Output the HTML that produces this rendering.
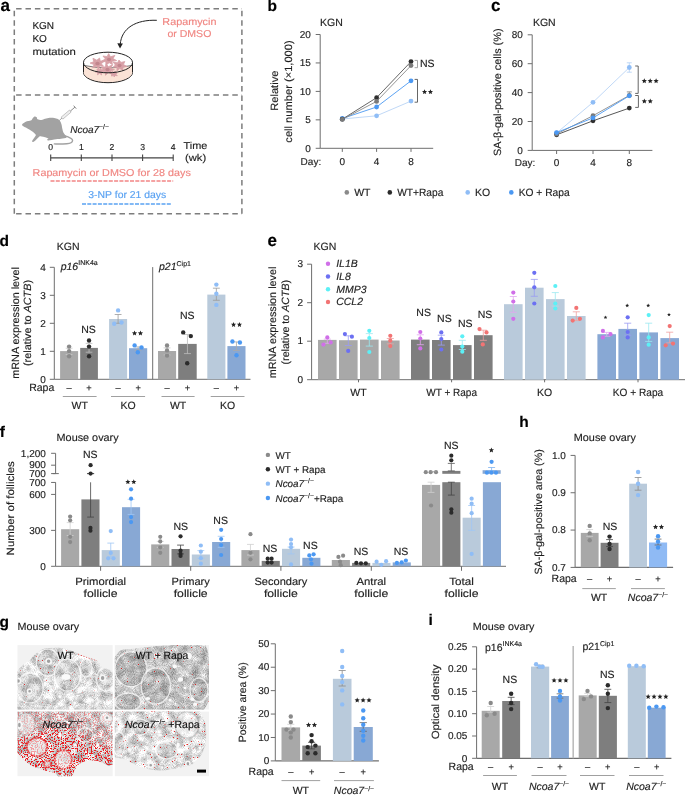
<!DOCTYPE html>
<html><head><meta charset="utf-8"><title>Figure</title>
<style>
html,body{margin:0;padding:0;background:#fff;}
body{width:685px;height:795px;overflow:hidden;}
svg{display:block;font-family:"Liberation Sans",sans-serif;will-change:transform;text-rendering:geometricPrecision;}
</style></head><body>
<svg width="685" height="795" viewBox="0 0 685 795">
<rect width="685" height="795" fill="#fff"/>
<text x="0.4" y="11.4" font-size="17" fill="#000" font-weight="bold"  stroke="#000" stroke-width="0.15">a</text>
<line x1="16.1" y1="8.8" x2="242" y2="8.8" stroke="#7d7d7d" stroke-width="1.5" stroke-dasharray="5.5 3.9"/>
<line x1="16.1" y1="95" x2="242" y2="95" stroke="#7d7d7d" stroke-width="1.5" stroke-dasharray="5.5 3.9"/>
<line x1="16.1" y1="213.8" x2="242" y2="213.8" stroke="#7d7d7d" stroke-width="1.5" stroke-dasharray="5.5 3.9"/>
<line x1="14.3" y1="10.8" x2="14.3" y2="214" stroke="#7d7d7d" stroke-width="1.5" stroke-dasharray="5.5 3.9"/>
<line x1="241.9" y1="10.8" x2="241.9" y2="214" stroke="#7d7d7d" stroke-width="1.5" stroke-dasharray="5.5 3.9"/>
<text x="32.4" y="29.3" font-size="10" fill="#1e1e1e"   stroke="#1e1e1e" stroke-width="0.15">KGN</text>
<text x="32.4" y="42" font-size="10" fill="#1e1e1e"   stroke="#1e1e1e" stroke-width="0.15">KO</text>
<text x="32.4" y="54.7" font-size="10" fill="#1e1e1e" textLength="43.5" lengthAdjust="spacingAndGlyphs"  stroke="#1e1e1e" stroke-width="0.15">mutation</text>
<ellipse cx="108" cy="72.4" rx="24.5" ry="10.3" fill="#fbe3d6" stroke="#222" stroke-width="1"/>
<rect x="83.5" y="62.5" width="49" height="9.9" fill="#fbe3d6"/>
<ellipse cx="108" cy="62.5" rx="24.5" ry="10.3" fill="#fff"/>
<path d="M83.6,65.4 Q108,70.5 132.4,65.4 L132.4,72.4 A24.5,10.3 0 0 1 83.6,72.4 Z" fill="#fbe3d6"/>
<path d="M83.8,65.4 Q108,70.5 132.2,65.4" fill="none" stroke="#444" stroke-width="0.7"/>
<polygon points="98.58,69.02 96.36,66.52 92.72,67.66 94.1,64.58 90.1,63.09 93.68,61.76 92.97,58.23 96.84,60.13 99.58,58.02 100.25,61.11 104.22,61.36 101.24,63.71 103.57,66.27 99.65,65.99" fill="#d8a1a7" stroke="#d8a1a7" stroke-width="0.8" stroke-linejoin="round"/>
<polygon points="114.88,55.39 113.03,58.61 116.65,60.61 111.96,61.22 112.36,64.49 109.18,62.72 105.99,65.15 105.82,61.72 101.4,61.18 105.48,58.99 102.93,55.98 107.07,56.64 108.67,53.62 110.43,56.82" fill="#d8a1a7" stroke="#d8a1a7" stroke-width="0.8" stroke-linejoin="round"/>
<polygon points="113.21,67.06 115.38,65.01 113.19,62.06 117.57,62.84 118.98,60.02 121.01,62.41 124.8,61.56 123.44,64.53 127.03,66.4 122.65,67.22 123.02,70.36 119.79,68.6 116.93,70.75 116.91,67.42" fill="#d8a1a7" stroke="#d8a1a7" stroke-width="0.8" stroke-linejoin="round"/>
<polygon points="105.56,75.35 105.26,71.59 101.53,71.6 103.59,69.39 101.45,66.95 105.22,67.03 106.17,63.92 108.45,66.66 112.59,64.75 110.76,68.36 114.52,69.7 110.66,70.83 111.86,74.21 108.18,72.35" fill="#d8a1a7" stroke="#d8a1a7" stroke-width="0.8" stroke-linejoin="round"/>
<polygon points="97.35,74.84 97.94,72.53 95.25,71.92 97.42,70.77 96.92,69.02 99.25,69.77 100.52,67.94 101.42,69.7 104.1,69.46 102.36,71.29 104.31,72.72 101.65,72.83 101.53,75.04 99.74,73.31" fill="#d8a1a7" stroke="#d8a1a7" stroke-width="0.8" stroke-linejoin="round"/>
<polygon points="112.01,71.27 113.83,72.28 115.38,71.14 115.57,72.82 117.18,73.2 115.85,74.22 117.32,75.79 115.05,75.43 114.29,76.88 113.23,75.6 111.26,76.06 112,74.5 110.51,73.59 112.48,73.18" fill="#d8a1a7" stroke="#d8a1a7" stroke-width="0.8" stroke-linejoin="round"/>
<ellipse cx="97.5" cy="63.5" rx="2.16" ry="1.87" fill="#c2868e"/>
<ellipse cx="109" cy="59.5" rx="2.1" ry="1.82" fill="#c2868e"/>
<ellipse cx="119.5" cy="65.5" rx="2.04" ry="1.77" fill="#c2868e"/>
<ellipse cx="107.5" cy="69.5" rx="2.04" ry="1.77" fill="#c2868e"/>
<ellipse cx="108" cy="62.5" rx="24.5" ry="10.3" fill="none" stroke="#222" stroke-width="1"/>
<line x1="83.5" y1="62.5" x2="83.5" y2="72.4" stroke="#222" stroke-width="1" />
<line x1="132.5" y1="62.5" x2="132.5" y2="72.4" stroke="#222" stroke-width="1" />
<path d="M156.8,20.3 C136,19.5 121.5,28 120.2,44.5" fill="none" stroke="#222" stroke-width="1"/>
<path d="M117.3,43.2 L120,48.6 L122.9,43.5 Z" fill="#222"/>
<text x="189.4" y="24.8" font-size="10" fill="#f08682" text-anchor="middle" textLength="54.1" lengthAdjust="spacingAndGlyphs"  stroke="#f08682" stroke-width="0.15">Rapamycin</text>
<text x="189.4" y="37.2" font-size="10" fill="#f08682" text-anchor="middle" textLength="43.9" lengthAdjust="spacingAndGlyphs"  stroke="#f08682" stroke-width="0.15">or DMSO</text>
<path d="M22.1,124.4 C22.28,123.75 23.52,122.95 24.5,122.4 C25.48,121.85 26.85,121.47 28,121.1 C29.15,120.73 30.62,120.68 31.4,120.2 C32.18,119.72 32.17,118.82 32.7,118.2 C33.23,117.58 33.93,116.67 34.6,116.5 C35.27,116.33 36.2,116.73 36.7,117.2 C37.2,117.67 36.8,118.82 37.6,119.3 C38.4,119.78 40.25,120.18 41.5,120.1 C42.75,120.02 43.73,119.18 45.1,118.8 C46.47,118.42 48.18,117.95 49.7,117.8 C51.22,117.65 52.83,117.7 54.2,117.9 C55.57,118.1 56.9,118.43 57.9,119 C58.9,119.57 59.6,120.4 60.2,121.3 C60.8,122.2 61.13,123.12 61.5,124.4 C61.87,125.68 62.08,127.63 62.4,129 C62.72,130.37 62.9,131.55 63.4,132.6 C63.9,133.65 64.87,134.48 65.4,135.3 C65.93,136.12 67.33,136.93 66.6,137.5 C65.87,138.07 62.77,138.42 61,138.7 C59.23,138.98 58.12,138.92 56,139.2 C53.88,139.48 49.77,140.35 48.3,140.4 C46.83,140.45 47.18,139.82 47.2,139.5 C47.22,139.18 48.75,138.88 48.4,138.5 C48.05,138.12 46.25,137.55 45.1,137.2 C43.95,136.85 42.53,136.45 41.5,136.4 C40.47,136.35 40.08,136.08 38.9,136.9 C37.72,137.72 35.45,140.48 34.4,141.3 C33.35,142.12 32.98,141.87 32.6,141.8 C32.22,141.73 31.68,141.77 32.1,140.9 C32.52,140.03 34.52,137.68 35.1,136.6 C35.68,135.52 36.18,135.35 35.6,134.4 C35.02,133.45 33.03,131.93 31.6,130.9 C30.17,129.87 28.37,128.97 27,128.2 C25.63,127.43 24.22,126.93 23.4,126.3 C22.58,125.67 21.92,125.05 22.1,124.4 Z" fill="#a2a2a2"/>
<path d="M64,135.6 C64.83,135.9 67.63,136.77 69,137.4 C70.37,138.03 71.68,138.65 72.2,139.4 C72.72,140.15 72.58,141.23 72.1,141.9 C71.62,142.57 70.82,143.05 69.3,143.4 C67.78,143.75 65.5,143.92 63,144 C60.5,144.08 55.75,143.92 54.3,143.9" fill="none" stroke="#a2a2a2" stroke-width="1.4" stroke-linecap="round"/>
<g transform="translate(59.3 120.4) rotate(-40.2)"><line x1="0" y1="0" x2="3.5" y2="0" stroke="#888" stroke-width="0.7"/><rect x="3.5" y="-1.3" width="11" height="2.6" fill="#eee" stroke="#999" stroke-width="0.5"/><line x1="14.5" y1="0" x2="20.5" y2="0" stroke="#888" stroke-width="0.9"/><line x1="20.5" y1="-2" x2="20.5" y2="2" stroke="#888" stroke-width="0.9"/></g>
<text x="70.2" y="132.7" font-size="10" fill="#1e1e1e" font-style="italic" stroke="#1e1e1e" stroke-width="0.15">Ncoa7<tspan font-size="6.8" dy="-3.8" font-style="normal">&#8722;/&#8722;</tspan></text>
<line x1="50.7" y1="157.9" x2="173.2" y2="157.9" stroke="#444" stroke-width="1.1" />
<line x1="50.7" y1="154.6" x2="50.7" y2="161.1" stroke="#444" stroke-width="1.1" />
<text x="50.7" y="150.4" font-size="8.6" fill="#1e1e1e" text-anchor="middle"  stroke="#1e1e1e" stroke-width="0.15">0</text>
<line x1="81.3" y1="154.6" x2="81.3" y2="161.1" stroke="#444" stroke-width="1.1" />
<text x="81.3" y="150.4" font-size="8.6" fill="#1e1e1e" text-anchor="middle"  stroke="#1e1e1e" stroke-width="0.15">1</text>
<line x1="112" y1="154.6" x2="112" y2="161.1" stroke="#444" stroke-width="1.1" />
<text x="112" y="150.4" font-size="8.6" fill="#1e1e1e" text-anchor="middle"  stroke="#1e1e1e" stroke-width="0.15">2</text>
<line x1="142.6" y1="154.6" x2="142.6" y2="161.1" stroke="#444" stroke-width="1.1" />
<text x="142.6" y="150.4" font-size="8.6" fill="#1e1e1e" text-anchor="middle"  stroke="#1e1e1e" stroke-width="0.15">3</text>
<line x1="173.2" y1="154.6" x2="173.2" y2="161.1" stroke="#444" stroke-width="1.1" />
<text x="173.2" y="150.4" font-size="8.6" fill="#1e1e1e" text-anchor="middle"  stroke="#1e1e1e" stroke-width="0.15">4</text>
<text x="183.6" y="148.6" font-size="10" fill="#1e1e1e" textLength="23.8" lengthAdjust="spacingAndGlyphs"  stroke="#1e1e1e" stroke-width="0.15">Time</text>
<text x="185" y="161.3" font-size="10" fill="#1e1e1e" textLength="21.2" lengthAdjust="spacingAndGlyphs"  stroke="#1e1e1e" stroke-width="0.15">(wk)</text>
<text x="32.6" y="176.3" font-size="10" fill="#f08682" textLength="158.2" lengthAdjust="spacingAndGlyphs"  stroke="#f08682" stroke-width="0.15">Rapamycin or DMSO for 28 days</text>
<line x1="50.5" y1="181" x2="173.2" y2="181" stroke="#f28585" stroke-width="1.4" stroke-dasharray="4 1.3"/>
<text x="88.3" y="198.3" font-size="10" fill="#5aa2f2" textLength="78" lengthAdjust="spacingAndGlyphs"  stroke="#5aa2f2" stroke-width="0.15">3-NP for 21 days</text>
<line x1="82" y1="204" x2="171.9" y2="204" stroke="#5aa2f2" stroke-width="1.4" stroke-dasharray="4 1.3"/>
<text x="267.6" y="11.4" font-size="15.5" fill="#000" font-weight="bold"  stroke="#000" stroke-width="0.15">b</text>
<text x="320.1" y="25.9" font-size="10.5" fill="#1e1e1e"   stroke="#1e1e1e" stroke-width="0.15">KGN</text>
<line x1="320.2" y1="34.5" x2="320.2" y2="148.3" stroke="#6e6e6e" stroke-width="1" />
<line x1="315.7" y1="34.5" x2="320.2" y2="34.5" stroke="#6e6e6e" stroke-width="1" />
<text x="310.8" y="37.7" font-size="10" fill="#1e1e1e" text-anchor="end"  stroke="#1e1e1e" stroke-width="0.15">20</text>
<line x1="315.7" y1="62.95" x2="320.2" y2="62.95" stroke="#6e6e6e" stroke-width="1" />
<text x="310.8" y="66.15" font-size="10" fill="#1e1e1e" text-anchor="end"  stroke="#1e1e1e" stroke-width="0.15">15</text>
<line x1="315.7" y1="91.4" x2="320.2" y2="91.4" stroke="#6e6e6e" stroke-width="1" />
<text x="310.8" y="94.6" font-size="10" fill="#1e1e1e" text-anchor="end"  stroke="#1e1e1e" stroke-width="0.15">10</text>
<line x1="315.7" y1="119.85" x2="320.2" y2="119.85" stroke="#6e6e6e" stroke-width="1" />
<text x="310.8" y="123.05" font-size="10" fill="#1e1e1e" text-anchor="end"  stroke="#1e1e1e" stroke-width="0.15">5</text>
<line x1="315.7" y1="148.3" x2="320.2" y2="148.3" stroke="#6e6e6e" stroke-width="1" />
<text x="310.8" y="151.5" font-size="10" fill="#1e1e1e" text-anchor="end"  stroke="#1e1e1e" stroke-width="0.15">0</text>
<line x1="320.2" y1="148.3" x2="433.2" y2="148.3" stroke="#6e6e6e" stroke-width="1" />
<line x1="342.3" y1="148.3" x2="342.3" y2="151.9" stroke="#6e6e6e" stroke-width="1" />
<text x="342.3" y="164.6" font-size="10" fill="#1e1e1e" text-anchor="middle"  stroke="#1e1e1e" stroke-width="0.15">0</text>
<line x1="376.6" y1="148.3" x2="376.6" y2="151.9" stroke="#6e6e6e" stroke-width="1" />
<text x="376.6" y="164.6" font-size="10" fill="#1e1e1e" text-anchor="middle"  stroke="#1e1e1e" stroke-width="0.15">4</text>
<line x1="411" y1="148.3" x2="411" y2="151.9" stroke="#6e6e6e" stroke-width="1" />
<text x="411" y="164.6" font-size="10" fill="#1e1e1e" text-anchor="middle"  stroke="#1e1e1e" stroke-width="0.15">8</text>
<text x="300.6" y="164.6" font-size="10" fill="#1e1e1e"   stroke="#1e1e1e" stroke-width="0.15">Day:</text>
<text transform="translate(278.4 90.7) rotate(-90)" font-size="10.5" fill="#1e1e1e" text-anchor="middle" textLength="40.3" lengthAdjust="spacingAndGlyphs"  stroke="#1e1e1e" stroke-width="0.15">Relative</text>
<text transform="translate(292 91.5) rotate(-90)" font-size="10.5" fill="#1e1e1e" text-anchor="middle" textLength="102.4" lengthAdjust="spacingAndGlyphs"  stroke="#1e1e1e" stroke-width="0.15">cell number (&#215;1,000)</text>
<polyline points="342.3,119 376.6,115.8 411,101.1" fill="none" stroke="#b9d4f5" stroke-width="0.9"/>
<polyline points="342.3,118.5 376.6,107 411,80.8" fill="none" stroke="#4b98f2" stroke-width="0.9"/>
<polyline points="342.3,119.2 376.6,97.7 411,61.6" fill="none" stroke="#555" stroke-width="0.9"/>
<polyline points="342.3,119.4 376.6,101.4 411,65.6" fill="none" stroke="#8a8a8a" stroke-width="0.9"/>
<circle cx="342.3" cy="119" r="2.4" fill="#8fbdf6"/>
<circle cx="376.6" cy="115.8" r="2.4" fill="#8fbdf6"/>
<circle cx="411" cy="101.1" r="2.4" fill="#8fbdf6"/>
<circle cx="342.3" cy="118.5" r="2.4" fill="#4b98f2"/>
<circle cx="376.6" cy="107" r="2.4" fill="#4b98f2"/>
<circle cx="411" cy="80.8" r="2.4" fill="#4b98f2"/>
<circle cx="342.3" cy="119.2" r="2.4" fill="#2e2e2e"/>
<circle cx="376.6" cy="97.7" r="2.4" fill="#2e2e2e"/>
<circle cx="411" cy="61.6" r="2.4" fill="#2e2e2e"/>
<circle cx="342.3" cy="119.4" r="2.4" fill="#7a7a7a"/>
<circle cx="376.6" cy="101.4" r="2.4" fill="#7a7a7a"/>
<circle cx="411" cy="65.6" r="2.4" fill="#7a7a7a"/>
<path d="M414.6,60.4 H417.5 V67.7 H414.6" fill="none" stroke="#9a9a9a" stroke-width="0.9"/>
<text x="420" y="66.5" font-size="10.5" fill="#1e1e1e"   stroke="#1e1e1e" stroke-width="0.15">NS</text>
<path d="M414.6,79.4 H417.5 V102.2 H414.6" fill="none" stroke="#555" stroke-width="0.9"/>
<polygon points="424.55,89.15 425.28,90.9 427.17,91.05 425.73,92.28 426.17,94.12 424.55,93.14 422.93,94.12 423.37,92.28 421.93,91.05 423.82,90.9" fill="#222"/>
<polygon points="430.45,89.15 431.18,90.9 433.07,91.05 431.63,92.28 432.07,94.12 430.45,93.14 428.83,94.12 429.27,92.28 427.83,91.05 429.72,90.9" fill="#222"/>
<text x="491" y="11.4" font-size="17" fill="#000" font-weight="bold"  stroke="#000" stroke-width="0.15">c</text>
<text x="532.9" y="25.9" font-size="10.5" fill="#1e1e1e"   stroke="#1e1e1e" stroke-width="0.15">KGN</text>
<line x1="532.2" y1="34.8" x2="532.2" y2="150.4" stroke="#6e6e6e" stroke-width="1" />
<line x1="527.7" y1="34.8" x2="532.2" y2="34.8" stroke="#6e6e6e" stroke-width="1" />
<text x="522.9" y="38" font-size="10" fill="#1e1e1e" text-anchor="end"  stroke="#1e1e1e" stroke-width="0.15">80</text>
<line x1="527.7" y1="63.7" x2="532.2" y2="63.7" stroke="#6e6e6e" stroke-width="1" />
<text x="522.9" y="66.9" font-size="10" fill="#1e1e1e" text-anchor="end"  stroke="#1e1e1e" stroke-width="0.15">60</text>
<line x1="527.7" y1="92.6" x2="532.2" y2="92.6" stroke="#6e6e6e" stroke-width="1" />
<text x="522.9" y="95.8" font-size="10" fill="#1e1e1e" text-anchor="end"  stroke="#1e1e1e" stroke-width="0.15">40</text>
<line x1="527.7" y1="121.5" x2="532.2" y2="121.5" stroke="#6e6e6e" stroke-width="1" />
<text x="522.9" y="124.7" font-size="10" fill="#1e1e1e" text-anchor="end"  stroke="#1e1e1e" stroke-width="0.15">20</text>
<line x1="527.7" y1="150.4" x2="532.2" y2="150.4" stroke="#6e6e6e" stroke-width="1" />
<text x="522.9" y="153.6" font-size="10" fill="#1e1e1e" text-anchor="end"  stroke="#1e1e1e" stroke-width="0.15">0</text>
<line x1="532.2" y1="150.4" x2="652.4" y2="150.4" stroke="#6e6e6e" stroke-width="1" />
<line x1="556.6" y1="150.4" x2="556.6" y2="154" stroke="#6e6e6e" stroke-width="1" />
<text x="556.6" y="166.2" font-size="10" fill="#1e1e1e" text-anchor="middle"  stroke="#1e1e1e" stroke-width="0.15">0</text>
<line x1="593" y1="150.4" x2="593" y2="154" stroke="#6e6e6e" stroke-width="1" />
<text x="593" y="166.2" font-size="10" fill="#1e1e1e" text-anchor="middle"  stroke="#1e1e1e" stroke-width="0.15">4</text>
<line x1="629.3" y1="150.4" x2="629.3" y2="154" stroke="#6e6e6e" stroke-width="1" />
<text x="629.3" y="166.2" font-size="10" fill="#1e1e1e" text-anchor="middle"  stroke="#1e1e1e" stroke-width="0.15">8</text>
<text x="514.7" y="166.2" font-size="10" fill="#1e1e1e"   stroke="#1e1e1e" stroke-width="0.15">Day:</text>
<text transform="translate(501 92.3) rotate(-90)" font-size="10.5" fill="#1e1e1e" text-anchor="middle" textLength="127.6" lengthAdjust="spacingAndGlyphs"  stroke="#1e1e1e" stroke-width="0.15">SA-&#946;-gal-positive cells (%)</text>
<polyline points="556.6,133 593,102.3 629.3,67.5" fill="none" stroke="#b9d4f5" stroke-width="0.9"/>
<polyline points="556.6,134.8 593,120.8 629.3,108.1" fill="none" stroke="#444" stroke-width="0.9"/>
<polyline points="556.6,134 593,115.7 629.3,95.4" fill="none" stroke="#8a8a8a" stroke-width="0.9"/>
<polyline points="556.6,132.6 593,117.9 629.3,95.8" fill="none" stroke="#4b98f2" stroke-width="0.9"/>
<line x1="629.3" y1="62.8" x2="629.3" y2="72.2" stroke="#b9d4f5" stroke-width="0.9" />
<line x1="626.8" y1="62.8" x2="631.8" y2="62.8" stroke="#b9d4f5" stroke-width="0.9" />
<line x1="626.8" y1="72.2" x2="631.8" y2="72.2" stroke="#b9d4f5" stroke-width="0.9" />
<line x1="629.3" y1="91.9" x2="629.3" y2="96" stroke="#888" stroke-width="0.9" />
<line x1="626.8" y1="91.9" x2="631.8" y2="91.9" stroke="#888" stroke-width="0.9" />
<line x1="626.8" y1="96" x2="631.8" y2="96" stroke="#888" stroke-width="0.9" />
<circle cx="556.6" cy="133" r="2.4" fill="#8fbdf6"/>
<circle cx="593" cy="102.3" r="2.4" fill="#8fbdf6"/>
<circle cx="629.3" cy="67.5" r="2.4" fill="#8fbdf6"/>
<circle cx="556.6" cy="134.8" r="2.4" fill="#2e2e2e"/>
<circle cx="593" cy="120.8" r="2.4" fill="#2e2e2e"/>
<circle cx="629.3" cy="108.1" r="2.4" fill="#2e2e2e"/>
<circle cx="556.6" cy="134" r="2.4" fill="#7a7a7a"/>
<circle cx="593" cy="115.7" r="2.4" fill="#7a7a7a"/>
<circle cx="629.3" cy="95.4" r="2.4" fill="#7a7a7a"/>
<circle cx="556.6" cy="132.6" r="2.4" fill="#4b98f2"/>
<circle cx="593" cy="117.9" r="2.4" fill="#4b98f2"/>
<circle cx="629.3" cy="95.8" r="2.4" fill="#4b98f2"/>
<path d="M635.2,66 H638.2 V93.4 H635.2" fill="none" stroke="#555" stroke-width="0.9"/>
<polygon points="644.3,78.25 645.03,80 646.92,80.15 645.48,81.38 645.92,83.22 644.3,82.24 642.68,83.22 643.12,81.38 641.68,80.15 643.57,80" fill="#222"/>
<polygon points="650.2,78.25 650.93,80 652.82,80.15 651.38,81.38 651.82,83.22 650.2,82.24 648.58,83.22 649.02,81.38 647.58,80.15 649.47,80" fill="#222"/>
<polygon points="656.1,78.25 656.83,80 658.72,80.15 657.28,81.38 657.72,83.22 656.1,82.24 654.48,83.22 654.92,81.38 653.48,80.15 655.37,80" fill="#222"/>
<path d="M635.2,95.5 H638.4 V107.4 H635.2" fill="none" stroke="#555" stroke-width="0.9"/>
<polygon points="644.35,98.55 645.08,100.3 646.97,100.45 645.53,101.68 645.97,103.52 644.35,102.54 642.73,103.52 643.17,101.68 641.73,100.45 643.62,100.3" fill="#222"/>
<polygon points="650.25,98.55 650.98,100.3 652.87,100.45 651.43,101.68 651.87,103.52 650.25,102.54 648.63,103.52 649.07,101.68 647.63,100.45 649.52,100.3" fill="#222"/>
<circle cx="346.8" cy="192.4" r="2.3" fill="#8a8a8a"/>
<text x="354.2" y="195.8" font-size="10.5" fill="#1e1e1e"   stroke="#1e1e1e" stroke-width="0.15">WT</text>
<circle cx="389.8" cy="192.4" r="2.3" fill="#2b2b2b"/>
<text x="397.2" y="195.8" font-size="10.5" fill="#1e1e1e" textLength="46.2" lengthAdjust="spacingAndGlyphs"  stroke="#1e1e1e" stroke-width="0.15">WT+Rapa</text>
<circle cx="467.7" cy="192.4" r="2.3" fill="#8fbdf6"/>
<text x="475.1" y="195.8" font-size="10.5" fill="#1e1e1e"   stroke="#1e1e1e" stroke-width="0.15">KO</text>
<circle cx="511.3" cy="192.4" r="2.3" fill="#4b98f2"/>
<text x="518.7" y="195.8" font-size="10.5" fill="#1e1e1e" textLength="51" lengthAdjust="spacingAndGlyphs"  stroke="#1e1e1e" stroke-width="0.15">KO + Rapa</text>
<text x="-0.6" y="245.9" font-size="15.5" fill="#000" font-weight="bold"  stroke="#000" stroke-width="0.15">d</text>
<text x="56.8" y="250.4" font-size="10.5" fill="#1e1e1e"   stroke="#1e1e1e" stroke-width="0.15">KGN</text>
<line x1="54.3" y1="267.3" x2="54.3" y2="379.3" stroke="#6e6e6e" stroke-width="1" />
<line x1="49.8" y1="267.3" x2="54.3" y2="267.3" stroke="#6e6e6e" stroke-width="1" />
<text x="45.8" y="270.5" font-size="10" fill="#1e1e1e" text-anchor="end"  stroke="#1e1e1e" stroke-width="0.15">4</text>
<line x1="49.8" y1="295.3" x2="54.3" y2="295.3" stroke="#6e6e6e" stroke-width="1" />
<text x="45.8" y="298.5" font-size="10" fill="#1e1e1e" text-anchor="end"  stroke="#1e1e1e" stroke-width="0.15">3</text>
<line x1="49.8" y1="323.3" x2="54.3" y2="323.3" stroke="#6e6e6e" stroke-width="1" />
<text x="45.8" y="326.5" font-size="10" fill="#1e1e1e" text-anchor="end"  stroke="#1e1e1e" stroke-width="0.15">2</text>
<line x1="49.8" y1="351.3" x2="54.3" y2="351.3" stroke="#6e6e6e" stroke-width="1" />
<text x="45.8" y="354.5" font-size="10" fill="#1e1e1e" text-anchor="end"  stroke="#1e1e1e" stroke-width="0.15">1</text>
<line x1="49.8" y1="379.3" x2="54.3" y2="379.3" stroke="#6e6e6e" stroke-width="1" />
<text x="45.8" y="382.5" font-size="10" fill="#1e1e1e" text-anchor="end"  stroke="#1e1e1e" stroke-width="0.15">0</text>
<line x1="54.3" y1="379.3" x2="250.5" y2="379.3" stroke="#6e6e6e" stroke-width="1" />
<line x1="152.7" y1="267.1" x2="152.7" y2="379.3" stroke="#6e6e6e" stroke-width="1" />
<text x="60.7" y="269.9" font-size="10.5" fill="#1e1e1e" stroke="#1e1e1e" stroke-width="0.15"><tspan font-style="italic">p16</tspan><tspan font-size="7" dy="-4.6">INK4a</tspan></text>
<text x="159" y="270.1" font-size="10.5" fill="#1e1e1e" stroke="#1e1e1e" stroke-width="0.15"><tspan font-style="italic">p21</tspan><tspan font-size="7" dy="-4.6">Cip1</tspan></text>
<text transform="translate(19.1 322.9) rotate(-90)" font-size="10.5" fill="#1e1e1e" text-anchor="middle" textLength="111.6" lengthAdjust="spacingAndGlyphs" stroke="#1e1e1e" stroke-width="0.15">mRNA expression level</text>
<text transform="translate(31.2 323) rotate(-90)" font-size="10.5" fill="#1e1e1e" text-anchor="middle" textLength="86" lengthAdjust="spacingAndGlyphs" stroke="#1e1e1e" stroke-width="0.15">(relative to <tspan font-style="italic">ACTB</tspan>)</text>
<rect x="60.1" y="351.1" width="18" height="28.2" fill="#a8a8a8"/>
<line x1="69.1" y1="348.2" x2="69.1" y2="354.5" stroke="#c8c8c8" stroke-width="0.8" />
<line x1="65.68" y1="348.2" x2="72.52" y2="348.2" stroke="#c8c8c8" stroke-width="0.8" />
<line x1="65.68" y1="354.5" x2="72.52" y2="354.5" stroke="#c8c8c8" stroke-width="0.8" />
<circle cx="69.1" cy="346.6" r="2.2" fill="#8a8a8a"/>
<circle cx="69.1" cy="351.1" r="2.2" fill="#8a8a8a"/>
<circle cx="69.1" cy="356.2" r="2.2" fill="#8a8a8a"/>
<rect x="80.2" y="347.9" width="17.7" height="31.4" fill="#7e7e7e"/>
<line x1="89.05" y1="343.4" x2="89.05" y2="352.2" stroke="#bbbbbb" stroke-width="0.8" />
<line x1="85.69" y1="343.4" x2="92.41" y2="343.4" stroke="#bbbbbb" stroke-width="0.8" />
<line x1="85.69" y1="352.2" x2="92.41" y2="352.2" stroke="#bbbbbb" stroke-width="0.8" />
<circle cx="89.05" cy="340.5" r="2.2" fill="#2b2b2b"/>
<circle cx="89.05" cy="346.6" r="2.2" fill="#2b2b2b"/>
<circle cx="89.05" cy="356.2" r="2.2" fill="#2b2b2b"/>
<rect x="109.1" y="319" width="18" height="60.3" fill="#b9cadb"/>
<line x1="118.1" y1="314.5" x2="118.1" y2="323.3" stroke="#9a9a9a" stroke-width="0.8" />
<line x1="114.68" y1="314.5" x2="121.52" y2="314.5" stroke="#9a9a9a" stroke-width="0.8" />
<line x1="114.68" y1="323.3" x2="121.52" y2="323.3" stroke="#9a9a9a" stroke-width="0.8" />
<circle cx="118.1" cy="310.4" r="2.2" fill="#8fbdf6"/>
<circle cx="114.2" cy="323.8" r="2.2" fill="#8fbdf6"/>
<circle cx="121.5" cy="322.5" r="2.2" fill="#8fbdf6"/>
<rect x="129" y="348.2" width="18.2" height="31.1" fill="#88a8d4"/>
<line x1="138.1" y1="346.9" x2="138.1" y2="350.1" stroke="#aaaaaa" stroke-width="0.8" />
<line x1="134.64" y1="346.9" x2="141.56" y2="346.9" stroke="#aaaaaa" stroke-width="0.8" />
<line x1="134.64" y1="350.1" x2="141.56" y2="350.1" stroke="#aaaaaa" stroke-width="0.8" />
<circle cx="134.6" cy="345.4" r="2.2" fill="#4b98f2"/>
<circle cx="141.5" cy="347.4" r="2.2" fill="#4b98f2"/>
<circle cx="137.8" cy="352.2" r="2.2" fill="#4b98f2"/>
<text x="88.5" y="332.9" font-size="10.5" fill="#1e1e1e" text-anchor="middle"  stroke="#1e1e1e" stroke-width="0.15">NS</text>
<polygon points="134.55,330.55 135.28,332.3 137.17,332.45 135.73,333.68 136.17,335.52 134.55,334.54 132.93,335.52 133.37,333.68 131.93,332.45 133.82,332.3" fill="#222"/>
<polygon points="140.45,330.55 141.18,332.3 143.07,332.45 141.63,333.68 142.07,335.52 140.45,334.54 138.83,335.52 139.27,333.68 137.83,332.45 139.72,332.3" fill="#222"/>
<rect x="158" y="351" width="18.1" height="28.3" fill="#a8a8a8"/>
<line x1="167.05" y1="347.9" x2="167.05" y2="355" stroke="#c8c8c8" stroke-width="0.8" />
<line x1="163.61" y1="347.9" x2="170.49" y2="347.9" stroke="#c8c8c8" stroke-width="0.8" />
<line x1="163.61" y1="355" x2="170.49" y2="355" stroke="#c8c8c8" stroke-width="0.8" />
<circle cx="167.05" cy="345.5" r="2.2" fill="#8a8a8a"/>
<circle cx="167.05" cy="350.5" r="2.2" fill="#8a8a8a"/>
<circle cx="167.05" cy="355.6" r="2.2" fill="#8a8a8a"/>
<rect x="178.2" y="343.9" width="18.5" height="35.4" fill="#7e7e7e"/>
<line x1="187.45" y1="334.5" x2="187.45" y2="353.6" stroke="#bbbbbb" stroke-width="0.8" />
<line x1="183.94" y1="334.5" x2="190.96" y2="334.5" stroke="#bbbbbb" stroke-width="0.8" />
<line x1="183.94" y1="353.6" x2="190.96" y2="353.6" stroke="#bbbbbb" stroke-width="0.8" />
<circle cx="183.2" cy="332.4" r="2.2" fill="#2b2b2b"/>
<circle cx="190.8" cy="336.1" r="2.2" fill="#2b2b2b"/>
<circle cx="187.2" cy="363.2" r="2.2" fill="#2b2b2b"/>
<rect x="207.3" y="294.6" width="18.1" height="84.7" fill="#b9cadb"/>
<line x1="216.35" y1="288.2" x2="216.35" y2="300.3" stroke="#9a9a9a" stroke-width="0.8" />
<line x1="212.91" y1="288.2" x2="219.79" y2="288.2" stroke="#9a9a9a" stroke-width="0.8" />
<line x1="212.91" y1="300.3" x2="219.79" y2="300.3" stroke="#9a9a9a" stroke-width="0.8" />
<circle cx="216.35" cy="284.6" r="2.2" fill="#8fbdf6"/>
<circle cx="216.35" cy="293.8" r="2.2" fill="#8fbdf6"/>
<circle cx="216.35" cy="304.9" r="2.2" fill="#8fbdf6"/>
<rect x="227.4" y="346.1" width="18.1" height="33.2" fill="#88a8d4"/>
<line x1="236.45" y1="341.9" x2="236.45" y2="350.5" stroke="#aaaaaa" stroke-width="0.8" />
<line x1="233.01" y1="341.9" x2="239.89" y2="341.9" stroke="#aaaaaa" stroke-width="0.8" />
<line x1="233.01" y1="350.5" x2="239.89" y2="350.5" stroke="#aaaaaa" stroke-width="0.8" />
<circle cx="232.4" cy="341.5" r="2.2" fill="#4b98f2"/>
<circle cx="239.9" cy="342.5" r="2.2" fill="#4b98f2"/>
<circle cx="236.5" cy="355.2" r="2.2" fill="#4b98f2"/>
<text x="187.2" y="319.4" font-size="10.5" fill="#1e1e1e" text-anchor="middle"  stroke="#1e1e1e" stroke-width="0.15">NS</text>
<polygon points="233.55,321.95 234.28,323.7 236.17,323.85 234.73,325.08 235.17,326.92 233.55,325.94 231.93,326.92 232.37,325.08 230.93,323.85 232.82,323.7" fill="#222"/>
<polygon points="239.45,321.95 240.18,323.7 242.07,323.85 240.63,325.08 241.07,326.92 239.45,325.94 237.83,326.92 238.27,325.08 236.83,323.85 238.72,323.7" fill="#222"/>
<text x="29.2" y="390.8" font-size="10.5" fill="#1e1e1e"   stroke="#1e1e1e" stroke-width="0.15">Rapa</text>
<text x="69.1" y="390.8" font-size="9.3" fill="#1e1e1e" text-anchor="middle"  stroke="#1e1e1e" stroke-width="0.15">&#8211;</text>
<text x="89" y="390.8" font-size="9.3" fill="#1e1e1e" text-anchor="middle"  stroke="#1e1e1e" stroke-width="0.15">+</text>
<text x="118.1" y="390.8" font-size="9.3" fill="#1e1e1e" text-anchor="middle"  stroke="#1e1e1e" stroke-width="0.15">&#8211;</text>
<text x="138.1" y="390.8" font-size="9.3" fill="#1e1e1e" text-anchor="middle"  stroke="#1e1e1e" stroke-width="0.15">+</text>
<text x="167" y="390.8" font-size="9.3" fill="#1e1e1e" text-anchor="middle"  stroke="#1e1e1e" stroke-width="0.15">&#8211;</text>
<text x="187.4" y="390.8" font-size="9.3" fill="#1e1e1e" text-anchor="middle"  stroke="#1e1e1e" stroke-width="0.15">+</text>
<text x="216.3" y="390.8" font-size="9.3" fill="#1e1e1e" text-anchor="middle"  stroke="#1e1e1e" stroke-width="0.15">&#8211;</text>
<text x="236.4" y="390.8" font-size="9.3" fill="#1e1e1e" text-anchor="middle"  stroke="#1e1e1e" stroke-width="0.15">+</text>
<line x1="62.8" y1="396.5" x2="96.6" y2="396.5" stroke="#a0a0a0" stroke-width="1" />
<text x="79.7" y="409.2" font-size="10.5" fill="#1e1e1e" text-anchor="middle"  stroke="#1e1e1e" stroke-width="0.15">WT</text>
<line x1="111" y1="396.5" x2="145.1" y2="396.5" stroke="#a0a0a0" stroke-width="1" />
<text x="128.05" y="409.2" font-size="10.5" fill="#1e1e1e" text-anchor="middle"  stroke="#1e1e1e" stroke-width="0.15">KO</text>
<line x1="161.5" y1="396.5" x2="194.6" y2="396.5" stroke="#a0a0a0" stroke-width="1" />
<text x="178.05" y="409.2" font-size="10.5" fill="#1e1e1e" text-anchor="middle"  stroke="#1e1e1e" stroke-width="0.15">WT</text>
<line x1="210.7" y1="396.5" x2="244.5" y2="396.5" stroke="#a0a0a0" stroke-width="1" />
<text x="227.6" y="409.2" font-size="10.5" fill="#1e1e1e" text-anchor="middle"  stroke="#1e1e1e" stroke-width="0.15">KO</text>
<text x="267.4" y="245.9" font-size="17" fill="#000" font-weight="bold"  stroke="#000" stroke-width="0.15">e</text>
<text x="313.5" y="250.4" font-size="10.5" fill="#1e1e1e"   stroke="#1e1e1e" stroke-width="0.15">KGN</text>
<line x1="311.6" y1="264.2" x2="311.6" y2="379.7" stroke="#6e6e6e" stroke-width="1" />
<line x1="307.1" y1="264.2" x2="311.6" y2="264.2" stroke="#6e6e6e" stroke-width="1" />
<text x="303" y="267.4" font-size="10" fill="#1e1e1e" text-anchor="end"  stroke="#1e1e1e" stroke-width="0.15">3</text>
<line x1="307.1" y1="302.7" x2="311.6" y2="302.7" stroke="#6e6e6e" stroke-width="1" />
<text x="303" y="305.9" font-size="10" fill="#1e1e1e" text-anchor="end"  stroke="#1e1e1e" stroke-width="0.15">2</text>
<line x1="307.1" y1="341.2" x2="311.6" y2="341.2" stroke="#6e6e6e" stroke-width="1" />
<text x="303" y="344.4" font-size="10" fill="#1e1e1e" text-anchor="end"  stroke="#1e1e1e" stroke-width="0.15">1</text>
<line x1="307.1" y1="379.7" x2="311.6" y2="379.7" stroke="#6e6e6e" stroke-width="1" />
<text x="303" y="382.9" font-size="10" fill="#1e1e1e" text-anchor="end"  stroke="#1e1e1e" stroke-width="0.15">0</text>
<line x1="311.6" y1="379.7" x2="685" y2="379.7" stroke="#6e6e6e" stroke-width="1" />
<text transform="translate(276.2 322.5) rotate(-90)" font-size="10.5" fill="#1e1e1e" text-anchor="middle" textLength="111.7" lengthAdjust="spacingAndGlyphs" stroke="#1e1e1e" stroke-width="0.15">mRNA expression level</text>
<text transform="translate(289.2 322.2) rotate(-90)" font-size="10.5" fill="#1e1e1e" text-anchor="middle" textLength="84.5" lengthAdjust="spacingAndGlyphs" stroke="#1e1e1e" stroke-width="0.15">(relative to <tspan font-style="italic">ACTB</tspan>)</text>
<circle cx="328" cy="263.7" r="2.2" fill="#d06fe8"/>
<text x="336.2" y="267" font-size="10.5" fill="#1e1e1e" font-style="italic"  stroke="#1e1e1e" stroke-width="0.15">IL1B</text>
<circle cx="328" cy="276.45" r="2.2" fill="#6c70f2"/>
<text x="336.2" y="279.75" font-size="10.5" fill="#1e1e1e" font-style="italic"  stroke="#1e1e1e" stroke-width="0.15">IL8</text>
<circle cx="328" cy="289.2" r="2.2" fill="#5cf0f6"/>
<text x="336.2" y="292.5" font-size="10.5" fill="#1e1e1e" font-style="italic"  stroke="#1e1e1e" stroke-width="0.15">MMP3</text>
<circle cx="328" cy="301.95" r="2.2" fill="#f27474"/>
<text x="336.2" y="305.25" font-size="10.5" fill="#1e1e1e" font-style="italic"  stroke="#1e1e1e" stroke-width="0.15">CCL2</text>
<rect x="318" y="339.9" width="18.6" height="39.8" fill="#a8a8a8"/>
<line x1="327.3" y1="339.1" x2="327.3" y2="343.3" stroke="#e2a6f0" stroke-width="0.8" />
<line x1="323.77" y1="339.1" x2="330.83" y2="339.1" stroke="#e2a6f0" stroke-width="0.8" />
<line x1="323.77" y1="343.3" x2="330.83" y2="343.3" stroke="#e2a6f0" stroke-width="0.8" />
<circle cx="327.3" cy="337.4" r="2.1" fill="#d06fe8"/>
<circle cx="323.4" cy="344.6" r="2.1" fill="#d06fe8"/>
<circle cx="330.7" cy="342.4" r="2.1" fill="#d06fe8"/>
<rect x="339" y="340.2" width="18.6" height="39.5" fill="#a8a8a8"/>
<line x1="348.3" y1="335.8" x2="348.3" y2="345.5" stroke="#9a9cf2" stroke-width="0.8" />
<line x1="344.77" y1="335.8" x2="351.83" y2="335.8" stroke="#9a9cf2" stroke-width="0.8" />
<line x1="344.77" y1="345.5" x2="351.83" y2="345.5" stroke="#9a9cf2" stroke-width="0.8" />
<circle cx="344.9" cy="334.1" r="2.1" fill="#6c70f2"/>
<circle cx="351.9" cy="336.7" r="2.1" fill="#6c70f2"/>
<circle cx="348.2" cy="350.9" r="2.1" fill="#6c70f2"/>
<rect x="360" y="339.6" width="18.6" height="40.1" fill="#a8a8a8"/>
<line x1="369.3" y1="333.6" x2="369.3" y2="346.1" stroke="#9be8f0" stroke-width="0.8" />
<line x1="365.77" y1="333.6" x2="372.83" y2="333.6" stroke="#9be8f0" stroke-width="0.8" />
<line x1="365.77" y1="346.1" x2="372.83" y2="346.1" stroke="#9be8f0" stroke-width="0.8" />
<circle cx="369.3" cy="330.8" r="2.1" fill="#5cf0f6"/>
<circle cx="369.3" cy="338" r="2.1" fill="#5cf0f6"/>
<circle cx="369.3" cy="352" r="2.1" fill="#5cf0f6"/>
<rect x="381" y="340.5" width="18.6" height="39.2" fill="#a8a8a8"/>
<line x1="390.3" y1="338.5" x2="390.3" y2="343.9" stroke="#f0a0a0" stroke-width="0.8" />
<line x1="386.77" y1="338.5" x2="393.83" y2="338.5" stroke="#f0a0a0" stroke-width="0.8" />
<line x1="386.77" y1="343.9" x2="393.83" y2="343.9" stroke="#f0a0a0" stroke-width="0.8" />
<circle cx="390.3" cy="335.8" r="2.1" fill="#f27474"/>
<circle cx="390.3" cy="340.7" r="2.1" fill="#f27474"/>
<circle cx="390.3" cy="346.1" r="2.1" fill="#f27474"/>
<rect x="411" y="339.6" width="18.6" height="40.1" fill="#7e7e7e"/>
<line x1="420.3" y1="334.8" x2="420.3" y2="344.7" stroke="#e2a6f0" stroke-width="0.8" />
<line x1="416.77" y1="334.8" x2="423.83" y2="334.8" stroke="#e2a6f0" stroke-width="0.8" />
<line x1="416.77" y1="344.7" x2="423.83" y2="344.7" stroke="#e2a6f0" stroke-width="0.8" />
<circle cx="420.3" cy="332" r="2.1" fill="#d06fe8"/>
<circle cx="420.3" cy="338.5" r="2.1" fill="#d06fe8"/>
<circle cx="420.3" cy="348.4" r="2.1" fill="#d06fe8"/>
<rect x="432" y="340" width="18.6" height="39.7" fill="#7e7e7e"/>
<line x1="441.3" y1="335.2" x2="441.3" y2="345.1" stroke="#9a9cf2" stroke-width="0.8" />
<line x1="437.77" y1="335.2" x2="444.83" y2="335.2" stroke="#9a9cf2" stroke-width="0.8" />
<line x1="437.77" y1="345.1" x2="444.83" y2="345.1" stroke="#9a9cf2" stroke-width="0.8" />
<circle cx="441.3" cy="332.4" r="2.1" fill="#6c70f2"/>
<circle cx="441.3" cy="339" r="2.1" fill="#6c70f2"/>
<circle cx="441.3" cy="349.5" r="2.1" fill="#6c70f2"/>
<rect x="453" y="345.1" width="18.6" height="34.6" fill="#7e7e7e"/>
<line x1="462.3" y1="340.3" x2="462.3" y2="349.5" stroke="#9be8f0" stroke-width="0.8" />
<line x1="458.77" y1="340.3" x2="465.83" y2="340.3" stroke="#9be8f0" stroke-width="0.8" />
<line x1="458.77" y1="349.5" x2="465.83" y2="349.5" stroke="#9be8f0" stroke-width="0.8" />
<circle cx="462.3" cy="336.3" r="2.1" fill="#5cf0f6"/>
<circle cx="462.3" cy="346.6" r="2.1" fill="#5cf0f6"/>
<circle cx="462.3" cy="351.7" r="2.1" fill="#5cf0f6"/>
<rect x="474" y="335.2" width="18.6" height="44.5" fill="#7e7e7e"/>
<line x1="483.3" y1="330.2" x2="483.3" y2="340.3" stroke="#f0a0a0" stroke-width="0.8" />
<line x1="479.77" y1="330.2" x2="486.83" y2="330.2" stroke="#f0a0a0" stroke-width="0.8" />
<line x1="479.77" y1="340.3" x2="486.83" y2="340.3" stroke="#f0a0a0" stroke-width="0.8" />
<circle cx="479.5" cy="329.1" r="2.1" fill="#f27474"/>
<circle cx="486.5" cy="332.4" r="2.1" fill="#f27474"/>
<circle cx="482.8" cy="344.4" r="2.1" fill="#f27474"/>
<rect x="504" y="304.2" width="18.6" height="75.5" fill="#b9cadb"/>
<line x1="513.3" y1="296.5" x2="513.3" y2="312.3" stroke="#e2a6f0" stroke-width="0.8" />
<line x1="509.77" y1="296.5" x2="516.83" y2="296.5" stroke="#e2a6f0" stroke-width="0.8" />
<line x1="509.77" y1="312.3" x2="516.83" y2="312.3" stroke="#e2a6f0" stroke-width="0.8" />
<circle cx="513.3" cy="292.6" r="2.1" fill="#d06fe8"/>
<circle cx="513.3" cy="301.5" r="2.1" fill="#d06fe8"/>
<circle cx="513.3" cy="318.8" r="2.1" fill="#d06fe8"/>
<rect x="525" y="287.7" width="18.6" height="92" fill="#b9cadb"/>
<line x1="534.3" y1="279.4" x2="534.3" y2="296.3" stroke="#9a9cf2" stroke-width="0.8" />
<line x1="530.77" y1="279.4" x2="537.83" y2="279.4" stroke="#9a9cf2" stroke-width="0.8" />
<line x1="530.77" y1="296.3" x2="537.83" y2="296.3" stroke="#9a9cf2" stroke-width="0.8" />
<circle cx="534.3" cy="272.8" r="2.1" fill="#6c70f2"/>
<circle cx="534.3" cy="287.3" r="2.1" fill="#6c70f2"/>
<circle cx="534.3" cy="303.5" r="2.1" fill="#6c70f2"/>
<rect x="546" y="299.1" width="18.6" height="80.6" fill="#b9cadb"/>
<line x1="555.3" y1="292.6" x2="555.3" y2="306.1" stroke="#9be8f0" stroke-width="0.8" />
<line x1="551.77" y1="292.6" x2="558.83" y2="292.6" stroke="#9be8f0" stroke-width="0.8" />
<line x1="551.77" y1="306.1" x2="558.83" y2="306.1" stroke="#9be8f0" stroke-width="0.8" />
<circle cx="555.3" cy="286" r="2.1" fill="#5cf0f6"/>
<circle cx="555.3" cy="303.5" r="2.1" fill="#5cf0f6"/>
<circle cx="555.3" cy="308.5" r="2.1" fill="#5cf0f6"/>
<rect x="567" y="316" width="18.6" height="63.7" fill="#b9cadb"/>
<line x1="576.3" y1="311.8" x2="576.3" y2="320.6" stroke="#f0a0a0" stroke-width="0.8" />
<line x1="572.77" y1="311.8" x2="579.83" y2="311.8" stroke="#f0a0a0" stroke-width="0.8" />
<line x1="572.77" y1="320.6" x2="579.83" y2="320.6" stroke="#f0a0a0" stroke-width="0.8" />
<circle cx="576.3" cy="307.9" r="2.1" fill="#f27474"/>
<circle cx="572.7" cy="320.6" r="2.1" fill="#f27474"/>
<circle cx="579.9" cy="318.8" r="2.1" fill="#f27474"/>
<rect x="597.4" y="334.2" width="18.6" height="45.5" fill="#88a8d4"/>
<line x1="606.7" y1="332.4" x2="606.7" y2="336.3" stroke="#e2a6f0" stroke-width="0.8" />
<line x1="603.17" y1="332.4" x2="610.23" y2="332.4" stroke="#e2a6f0" stroke-width="0.8" />
<line x1="603.17" y1="336.3" x2="610.23" y2="336.3" stroke="#e2a6f0" stroke-width="0.8" />
<circle cx="602.9" cy="330.9" r="2.1" fill="#d06fe8"/>
<circle cx="610.5" cy="334.2" r="2.1" fill="#d06fe8"/>
<circle cx="602.9" cy="337.4" r="2.1" fill="#d06fe8"/>
<rect x="618.4" y="328.9" width="18.6" height="50.8" fill="#88a8d4"/>
<line x1="627.7" y1="323.2" x2="627.7" y2="335.2" stroke="#9a9cf2" stroke-width="0.8" />
<line x1="624.17" y1="323.2" x2="631.23" y2="323.2" stroke="#9a9cf2" stroke-width="0.8" />
<line x1="624.17" y1="335.2" x2="631.23" y2="335.2" stroke="#9a9cf2" stroke-width="0.8" />
<circle cx="627.7" cy="317.3" r="2.1" fill="#6c70f2"/>
<circle cx="627.7" cy="332" r="2.1" fill="#6c70f2"/>
<circle cx="627.7" cy="337.4" r="2.1" fill="#6c70f2"/>
<rect x="639.4" y="332.4" width="18.6" height="47.3" fill="#88a8d4"/>
<line x1="648.7" y1="323.2" x2="648.7" y2="341.4" stroke="#9be8f0" stroke-width="0.8" />
<line x1="645.17" y1="323.2" x2="652.23" y2="323.2" stroke="#9be8f0" stroke-width="0.8" />
<line x1="645.17" y1="341.4" x2="652.23" y2="341.4" stroke="#9be8f0" stroke-width="0.8" />
<circle cx="648.7" cy="315.1" r="2.1" fill="#5cf0f6"/>
<circle cx="648.7" cy="337.4" r="2.1" fill="#5cf0f6"/>
<circle cx="648.7" cy="344.7" r="2.1" fill="#5cf0f6"/>
<rect x="660.4" y="338.1" width="18.6" height="41.6" fill="#88a8d4"/>
<line x1="669.7" y1="332.2" x2="669.7" y2="342.9" stroke="#f0a0a0" stroke-width="0.8" />
<line x1="666.17" y1="332.2" x2="673.23" y2="332.2" stroke="#f0a0a0" stroke-width="0.8" />
<line x1="666.17" y1="342.9" x2="673.23" y2="342.9" stroke="#f0a0a0" stroke-width="0.8" />
<circle cx="669.7" cy="326.1" r="2.1" fill="#f27474"/>
<circle cx="665.7" cy="345.3" r="2.1" fill="#f27474"/>
<circle cx="673" cy="343.6" r="2.1" fill="#f27474"/>
<line x1="358.5" y1="379.7" x2="358.5" y2="382.3" stroke="#6e6e6e" stroke-width="1" />
<text x="358.5" y="395.5" font-size="10.5" fill="#1e1e1e" text-anchor="middle"  stroke="#1e1e1e" stroke-width="0.15">WT</text>
<line x1="451.6" y1="379.7" x2="451.6" y2="382.3" stroke="#6e6e6e" stroke-width="1" />
<text x="451.6" y="395.5" font-size="10.5" fill="#1e1e1e" text-anchor="middle" textLength="50.8" lengthAdjust="spacingAndGlyphs"  stroke="#1e1e1e" stroke-width="0.15">WT + Rapa</text>
<line x1="544.6" y1="379.7" x2="544.6" y2="382.3" stroke="#6e6e6e" stroke-width="1" />
<text x="544.6" y="395.5" font-size="10.5" fill="#1e1e1e" text-anchor="middle"  stroke="#1e1e1e" stroke-width="0.15">KO</text>
<line x1="638" y1="379.7" x2="638" y2="382.3" stroke="#6e6e6e" stroke-width="1" />
<text x="638" y="395.5" font-size="10.5" fill="#1e1e1e" text-anchor="middle" textLength="50.3" lengthAdjust="spacingAndGlyphs"  stroke="#1e1e1e" stroke-width="0.15">KO + Rapa</text>
<text x="423.6" y="315.5" font-size="10.5" fill="#1e1e1e" text-anchor="middle"  stroke="#1e1e1e" stroke-width="0.15">NS</text>
<text x="444.4" y="321.5" font-size="10.5" fill="#1e1e1e" text-anchor="middle"  stroke="#1e1e1e" stroke-width="0.15">NS</text>
<text x="465.3" y="326.5" font-size="10.5" fill="#1e1e1e" text-anchor="middle"  stroke="#1e1e1e" stroke-width="0.15">NS</text>
<text x="485" y="318.4" font-size="10.5" fill="#1e1e1e" text-anchor="middle"  stroke="#1e1e1e" stroke-width="0.15">NS</text>
<polygon points="605.5,315.4 606.03,316.67 607.4,316.78 606.36,317.68 606.68,319.02 605.5,318.3 604.32,319.02 604.64,317.68 603.6,316.78 604.97,316.67" fill="#222"/>
<polygon points="627.2,303.6 627.73,304.87 629.1,304.98 628.06,305.88 628.38,307.22 627.2,306.5 626.02,307.22 626.34,305.88 625.3,304.98 626.67,304.87" fill="#222"/>
<polygon points="648.2,303.6 648.73,304.87 650.1,304.98 649.06,305.88 649.38,307.22 648.2,306.5 647.02,307.22 647.34,305.88 646.3,304.98 647.67,304.87" fill="#222"/>
<polygon points="669,312.7 669.53,313.97 670.9,314.08 669.86,314.98 670.18,316.32 669,315.6 667.82,316.32 668.14,314.98 667.1,314.08 668.47,313.97" fill="#222"/>
<text x="-0.3" y="436.6" font-size="15.5" fill="#000" font-weight="bold"  stroke="#000" stroke-width="0.15">f</text>
<text x="56.6" y="440.7" font-size="10.5" fill="#1e1e1e" textLength="62" lengthAdjust="spacingAndGlyphs"  stroke="#1e1e1e" stroke-width="0.15">Mouse ovary</text>
<line x1="55.6" y1="482.3" x2="55.6" y2="566.3" stroke="#6e6e6e" stroke-width="1" />
<line x1="51.1" y1="482.44" x2="55.6" y2="482.44" stroke="#6e6e6e" stroke-width="1" />
<text x="45.9" y="485.64" font-size="10" fill="#1e1e1e" text-anchor="end"  stroke="#1e1e1e" stroke-width="0.15">700</text>
<line x1="51.1" y1="494.42" x2="55.6" y2="494.42" stroke="#6e6e6e" stroke-width="1" />
<text x="45.9" y="497.62" font-size="10" fill="#1e1e1e" text-anchor="end"  stroke="#1e1e1e" stroke-width="0.15">600</text>
<line x1="51.1" y1="530.36" x2="55.6" y2="530.36" stroke="#6e6e6e" stroke-width="1" />
<text x="45.9" y="533.56" font-size="10" fill="#1e1e1e" text-anchor="end"  stroke="#1e1e1e" stroke-width="0.15">300</text>
<line x1="51.1" y1="566.3" x2="55.6" y2="566.3" stroke="#6e6e6e" stroke-width="1" />
<text x="45.9" y="569.5" font-size="10" fill="#1e1e1e" text-anchor="end"  stroke="#1e1e1e" stroke-width="0.15">0</text>
<line x1="55.6" y1="453.3" x2="55.6" y2="473.6" stroke="#6e6e6e" stroke-width="1" />
<line x1="51.1" y1="453.3" x2="55.6" y2="453.3" stroke="#6e6e6e" stroke-width="1" />
<text x="45.9" y="456.5" font-size="10" fill="#1e1e1e" text-anchor="end"  stroke="#1e1e1e" stroke-width="0.15">1,200</text>
<line x1="51.1" y1="465.2" x2="55.6" y2="465.2" stroke="#6e6e6e" stroke-width="1" />
<text x="45.9" y="468.4" font-size="10" fill="#1e1e1e" text-anchor="end"  stroke="#1e1e1e" stroke-width="0.15">900</text>
<line x1="51.1" y1="473.6" x2="55.6" y2="473.6" stroke="#6e6e6e" stroke-width="1" />
<text x="45.9" y="476.8" font-size="10" fill="#1e1e1e" text-anchor="end"  stroke="#1e1e1e" stroke-width="0.15">700</text>
<line x1="52.8" y1="473.6" x2="58.8" y2="473.6" stroke="#6e6e6e" stroke-width="1" />
<line x1="55.6" y1="566.3" x2="506" y2="566.3" stroke="#6e6e6e" stroke-width="1" />
<text transform="translate(14.2 508.3) rotate(-90)" font-size="10.5" fill="#1e1e1e" text-anchor="middle" textLength="94.2" lengthAdjust="spacingAndGlyphs" stroke="#1e1e1e" stroke-width="0.15">Number of follicles</text>
<rect x="61.1" y="529.2" width="18.1" height="37.1" fill="#a8a8a8"/>
<line x1="70.15" y1="522.6" x2="70.15" y2="535.5" stroke="#cfcfcf" stroke-width="0.8" />
<line x1="66.71" y1="522.6" x2="73.59" y2="522.6" stroke="#cfcfcf" stroke-width="0.8" />
<line x1="66.71" y1="535.5" x2="73.59" y2="535.5" stroke="#cfcfcf" stroke-width="0.8" />
<circle cx="70.15" cy="516.5" r="2.1" fill="#8a8a8a"/>
<circle cx="70.15" cy="520.3" r="2.1" fill="#8a8a8a"/>
<circle cx="70.15" cy="536.8" r="2.1" fill="#8a8a8a"/>
<circle cx="70.15" cy="542.1" r="2.1" fill="#8a8a8a"/>
<rect x="81.4" y="499.4" width="18.1" height="66.9" fill="#7e7e7e"/>
<circle cx="90.45" cy="527.9" r="2.1" fill="#2b2b2b"/>
<circle cx="90.45" cy="530.7" r="2.1" fill="#2b2b2b"/>
<rect x="101.7" y="550.1" width="18.1" height="16.2" fill="#b9cadb"/>
<line x1="110.75" y1="543.1" x2="110.75" y2="557" stroke="#9fc6f5" stroke-width="0.8" />
<line x1="107.31" y1="543.1" x2="114.19" y2="543.1" stroke="#9fc6f5" stroke-width="0.8" />
<line x1="107.31" y1="557" x2="114.19" y2="557" stroke="#9fc6f5" stroke-width="0.8" />
<circle cx="110.75" cy="531.1" r="2.1" fill="#8fbdf6"/>
<circle cx="110.75" cy="552.9" r="2.1" fill="#8fbdf6"/>
<circle cx="108.2" cy="558.3" r="2.1" fill="#8fbdf6"/>
<circle cx="113.5" cy="558.3" r="2.1" fill="#8fbdf6"/>
<rect x="122" y="507.2" width="18.1" height="59.1" fill="#88a8d4"/>
<line x1="131.05" y1="499.3" x2="131.05" y2="514.4" stroke="#9fc6f5" stroke-width="0.8" />
<line x1="127.61" y1="499.3" x2="134.49" y2="499.3" stroke="#9fc6f5" stroke-width="0.8" />
<line x1="127.61" y1="514.4" x2="134.49" y2="514.4" stroke="#9fc6f5" stroke-width="0.8" />
<circle cx="131.05" cy="489.3" r="2.1" fill="#4b98f2"/>
<circle cx="131.05" cy="498.7" r="2.1" fill="#4b98f2"/>
<circle cx="131.05" cy="517.1" r="2.1" fill="#4b98f2"/>
<circle cx="131.05" cy="522.1" r="2.1" fill="#4b98f2"/>
<rect x="151.2" y="544.4" width="18.1" height="21.9" fill="#a8a8a8"/>
<line x1="160.25" y1="541.4" x2="160.25" y2="547.3" stroke="#cfcfcf" stroke-width="0.8" />
<line x1="156.81" y1="541.4" x2="163.69" y2="541.4" stroke="#cfcfcf" stroke-width="0.8" />
<line x1="156.81" y1="547.3" x2="163.69" y2="547.3" stroke="#cfcfcf" stroke-width="0.8" />
<circle cx="160.25" cy="536.8" r="2.1" fill="#8a8a8a"/>
<circle cx="160.25" cy="541.4" r="2.1" fill="#8a8a8a"/>
<circle cx="160.25" cy="547.3" r="2.1" fill="#8a8a8a"/>
<circle cx="160.25" cy="552.8" r="2.1" fill="#8a8a8a"/>
<rect x="171.5" y="549" width="18.1" height="17.3" fill="#7e7e7e"/>
<line x1="180.55" y1="545.1" x2="180.55" y2="553.9" stroke="#444444" stroke-width="0.8" />
<line x1="177.11" y1="545.1" x2="183.99" y2="545.1" stroke="#444444" stroke-width="0.8" />
<line x1="177.11" y1="553.9" x2="183.99" y2="553.9" stroke="#444444" stroke-width="0.8" />
<circle cx="180.55" cy="536.3" r="2.1" fill="#2b2b2b"/>
<circle cx="180.55" cy="550.6" r="2.1" fill="#2b2b2b"/>
<circle cx="180.55" cy="553.9" r="2.1" fill="#2b2b2b"/>
<circle cx="180.55" cy="556" r="2.1" fill="#2b2b2b"/>
<rect x="191.8" y="554.5" width="18.1" height="11.8" fill="#b9cadb"/>
<line x1="200.85" y1="550.6" x2="200.85" y2="558.2" stroke="#9fc6f5" stroke-width="0.8" />
<line x1="197.41" y1="550.6" x2="204.29" y2="550.6" stroke="#9fc6f5" stroke-width="0.8" />
<line x1="197.41" y1="558.2" x2="204.29" y2="558.2" stroke="#9fc6f5" stroke-width="0.8" />
<circle cx="200.85" cy="545.5" r="2.1" fill="#8fbdf6"/>
<circle cx="200.85" cy="551.7" r="2.1" fill="#8fbdf6"/>
<circle cx="200.85" cy="558.2" r="2.1" fill="#8fbdf6"/>
<circle cx="200.85" cy="563.7" r="2.1" fill="#8fbdf6"/>
<rect x="212.1" y="542" width="18.1" height="24.3" fill="#88a8d4"/>
<line x1="221.15" y1="536.3" x2="221.15" y2="547.3" stroke="#9fc6f5" stroke-width="0.8" />
<line x1="217.71" y1="536.3" x2="224.59" y2="536.3" stroke="#9fc6f5" stroke-width="0.8" />
<line x1="217.71" y1="547.3" x2="224.59" y2="547.3" stroke="#9fc6f5" stroke-width="0.8" />
<circle cx="221.15" cy="529.8" r="2.1" fill="#4b98f2"/>
<circle cx="221.15" cy="539" r="2.1" fill="#4b98f2"/>
<circle cx="221.15" cy="545.1" r="2.1" fill="#4b98f2"/>
<circle cx="221.15" cy="555" r="2.1" fill="#4b98f2"/>
<rect x="241.4" y="550.1" width="18.1" height="16.2" fill="#a8a8a8"/>
<line x1="250.45" y1="544.4" x2="250.45" y2="555" stroke="#cfcfcf" stroke-width="0.8" />
<line x1="247.01" y1="544.4" x2="253.89" y2="544.4" stroke="#cfcfcf" stroke-width="0.8" />
<line x1="247.01" y1="555" x2="253.89" y2="555" stroke="#cfcfcf" stroke-width="0.8" />
<circle cx="250.45" cy="534.2" r="2.1" fill="#8a8a8a"/>
<circle cx="250.45" cy="552.8" r="2.1" fill="#8a8a8a"/>
<circle cx="250.45" cy="559.3" r="2.1" fill="#8a8a8a"/>
<rect x="261.7" y="560.9" width="18.1" height="5.4" fill="#7e7e7e"/>
<circle cx="267.7" cy="558.7" r="2.1" fill="#2b2b2b"/>
<circle cx="271.6" cy="558.7" r="2.1" fill="#2b2b2b"/>
<circle cx="267.7" cy="562.6" r="2.1" fill="#2b2b2b"/>
<circle cx="271.6" cy="562.6" r="2.1" fill="#2b2b2b"/>
<rect x="282" y="548.8" width="18.1" height="17.5" fill="#b9cadb"/>
<line x1="291.05" y1="547" x2="291.05" y2="553.9" stroke="#9fc6f5" stroke-width="0.8" />
<line x1="287.61" y1="547" x2="294.49" y2="547" stroke="#9fc6f5" stroke-width="0.8" />
<line x1="287.61" y1="553.9" x2="294.49" y2="553.9" stroke="#9fc6f5" stroke-width="0.8" />
<circle cx="291.05" cy="539.6" r="2.1" fill="#8fbdf6"/>
<circle cx="291.05" cy="544" r="2.1" fill="#8fbdf6"/>
<circle cx="291.05" cy="547.3" r="2.1" fill="#8fbdf6"/>
<circle cx="291.05" cy="564.4" r="2.1" fill="#8fbdf6"/>
<rect x="302.3" y="557.8" width="18.1" height="8.5" fill="#88a8d4"/>
<circle cx="309.3" cy="555.4" r="2.1" fill="#4b98f2"/>
<circle cx="313.6" cy="554.3" r="2.1" fill="#4b98f2"/>
<circle cx="311" cy="559.3" r="2.1" fill="#4b98f2"/>
<circle cx="311.5" cy="563.7" r="2.1" fill="#4b98f2"/>
<rect x="331.8" y="560" width="18.1" height="6.3" fill="#a8a8a8"/>
<circle cx="338.4" cy="556.9" r="2.1" fill="#8a8a8a"/>
<circle cx="343.1" cy="555.7" r="2.1" fill="#8a8a8a"/>
<circle cx="340" cy="561.7" r="2.1" fill="#8a8a8a"/>
<circle cx="340.7" cy="565.2" r="2.1" fill="#8a8a8a"/>
<rect x="352.1" y="562.9" width="18.1" height="3.4" fill="#7e7e7e"/>
<circle cx="356.3" cy="562.9" r="2.1" fill="#2b2b2b"/>
<circle cx="361" cy="563.3" r="2.1" fill="#2b2b2b"/>
<circle cx="365.8" cy="563.3" r="2.1" fill="#2b2b2b"/>
<rect x="372.4" y="562.9" width="18.1" height="3.4" fill="#b9cadb"/>
<circle cx="376.6" cy="561.7" r="2.1" fill="#8fbdf6"/>
<circle cx="381.3" cy="564.8" r="2.1" fill="#8fbdf6"/>
<circle cx="386.1" cy="561.2" r="2.1" fill="#8fbdf6"/>
<rect x="392.7" y="562.4" width="18.1" height="3.9" fill="#88a8d4"/>
<circle cx="396.9" cy="562.9" r="2.1" fill="#4b98f2"/>
<circle cx="401.7" cy="562.4" r="2.1" fill="#4b98f2"/>
<circle cx="405.9" cy="560.5" r="2.1" fill="#4b98f2"/>
<rect x="422" y="484.9" width="18.1" height="81.4" fill="#a8a8a8"/>
<line x1="431.05" y1="482.2" x2="431.05" y2="492.4" stroke="#cfcfcf" stroke-width="0.8" />
<line x1="427.61" y1="482.2" x2="434.49" y2="482.2" stroke="#cfcfcf" stroke-width="0.8" />
<line x1="427.61" y1="492.4" x2="434.49" y2="492.4" stroke="#cfcfcf" stroke-width="0.8" />
<circle cx="431.05" cy="505.5" r="2.1" fill="#8a8a8a"/>
<rect x="442.3" y="482.2" width="18.1" height="84.1" fill="#7e7e7e"/>
<line x1="451.35" y1="482.2" x2="451.35" y2="495.1" stroke="#444444" stroke-width="0.8" />
<line x1="447.91" y1="482.2" x2="454.79" y2="482.2" stroke="#444444" stroke-width="0.8" />
<line x1="447.91" y1="495.1" x2="454.79" y2="495.1" stroke="#444444" stroke-width="0.8" />
<circle cx="451.35" cy="509.3" r="2.1" fill="#2b2b2b"/>
<circle cx="451.35" cy="512.7" r="2.1" fill="#2b2b2b"/>
<rect x="462.6" y="517.7" width="18.1" height="48.6" fill="#b9cadb"/>
<line x1="471.65" y1="505.5" x2="471.65" y2="530.4" stroke="#9fc6f5" stroke-width="0.8" />
<line x1="468.21" y1="505.5" x2="475.09" y2="505.5" stroke="#9fc6f5" stroke-width="0.8" />
<line x1="468.21" y1="530.4" x2="475.09" y2="530.4" stroke="#9fc6f5" stroke-width="0.8" />
<circle cx="471.65" cy="498.7" r="2.1" fill="#8fbdf6"/>
<circle cx="471.65" cy="503.7" r="2.1" fill="#8fbdf6"/>
<circle cx="471.65" cy="513.2" r="2.1" fill="#8fbdf6"/>
<circle cx="471.65" cy="553.9" r="2.1" fill="#8fbdf6"/>
<rect x="482.9" y="482.2" width="18.1" height="84.1" fill="#88a8d4"/>
<line x1="90.6" y1="473.6" x2="90.6" y2="473.6" stroke="#444" stroke-width="0.8" />
<line x1="87.1" y1="473.6" x2="94.1" y2="473.6" stroke="#444" stroke-width="0.8" />
<line x1="87.1" y1="473.6" x2="94.1" y2="473.6" stroke="#444" stroke-width="0.8" />
<line x1="90.6" y1="482.3" x2="90.6" y2="517.1" stroke="#444" stroke-width="0.8" />
<line x1="87.2" y1="517.1" x2="94" y2="517.1" stroke="#444" stroke-width="0.8" />
<circle cx="90.6" cy="465.2" r="2.1" fill="#2b2b2b"/>
<circle cx="90.6" cy="473.6" r="2.1" fill="#2b2b2b"/>
<circle cx="425.8" cy="472.2" r="2.1" fill="#8a8a8a"/>
<circle cx="430.6" cy="472.2" r="2.1" fill="#8a8a8a"/>
<circle cx="436" cy="472.2" r="2.1" fill="#8a8a8a"/>
<line x1="430.9" y1="471.6" x2="436" y2="471.6" stroke="#999" stroke-width="0.8" />
<rect x="442.3" y="470.9" width="18.1" height="2.9" fill="#7e7e7e"/>
<line x1="451.3" y1="463.4" x2="451.3" y2="470.9" stroke="#555" stroke-width="0.8" />
<line x1="447.8" y1="463.4" x2="454.8" y2="463.4" stroke="#555" stroke-width="0.8" />
<line x1="447.8" y1="470.9" x2="454.8" y2="470.9" stroke="#555" stroke-width="0.8" />
<circle cx="451.3" cy="455.7" r="2.1" fill="#2b2b2b"/>
<circle cx="451.3" cy="460.3" r="2.1" fill="#2b2b2b"/>
<rect x="482.6" y="470.2" width="18.1" height="3.6" fill="#88a8d4"/>
<line x1="491.6" y1="467.5" x2="491.6" y2="470.5" stroke="#7fb2f0" stroke-width="0.8" />
<line x1="488.1" y1="467.5" x2="495.1" y2="467.5" stroke="#7fb2f0" stroke-width="0.8" />
<line x1="488.1" y1="470.5" x2="495.1" y2="470.5" stroke="#7fb2f0" stroke-width="0.8" />
<circle cx="491.6" cy="461.8" r="2.1" fill="#4b98f2"/>
<circle cx="486.9" cy="472.7" r="2.1" fill="#4b98f2"/>
<circle cx="491.4" cy="472.7" r="2.1" fill="#4b98f2"/>
<circle cx="496" cy="472.7" r="2.1" fill="#4b98f2"/>
<line x1="100.6" y1="566.3" x2="100.6" y2="570.8" stroke="#6e6e6e" stroke-width="1" />
<text x="100.6" y="584.5" font-size="10.5" fill="#1e1e1e" text-anchor="middle" textLength="50.8" lengthAdjust="spacingAndGlyphs"  stroke="#1e1e1e" stroke-width="0.15">Primordial</text>
<text x="100.6" y="597" font-size="10.5" fill="#1e1e1e" text-anchor="middle" textLength="34" lengthAdjust="spacingAndGlyphs"  stroke="#1e1e1e" stroke-width="0.15">follicle</text>
<line x1="190.7" y1="566.3" x2="190.7" y2="570.8" stroke="#6e6e6e" stroke-width="1" />
<text x="190.7" y="584.5" font-size="10.5" fill="#1e1e1e" text-anchor="middle" textLength="38.2" lengthAdjust="spacingAndGlyphs"  stroke="#1e1e1e" stroke-width="0.15">Primary</text>
<text x="190.7" y="597" font-size="10.5" fill="#1e1e1e" text-anchor="middle" textLength="34" lengthAdjust="spacingAndGlyphs"  stroke="#1e1e1e" stroke-width="0.15">follicle</text>
<line x1="280.9" y1="566.3" x2="280.9" y2="570.8" stroke="#6e6e6e" stroke-width="1" />
<text x="280.9" y="584.5" font-size="10.5" fill="#1e1e1e" text-anchor="middle" textLength="52.9" lengthAdjust="spacingAndGlyphs"  stroke="#1e1e1e" stroke-width="0.15">Secondary</text>
<text x="280.9" y="597" font-size="10.5" fill="#1e1e1e" text-anchor="middle" textLength="34" lengthAdjust="spacingAndGlyphs"  stroke="#1e1e1e" stroke-width="0.15">follicle</text>
<line x1="371.3" y1="566.3" x2="371.3" y2="570.8" stroke="#6e6e6e" stroke-width="1" />
<text x="371.3" y="584.5" font-size="10.5" fill="#1e1e1e" text-anchor="middle" textLength="29.7" lengthAdjust="spacingAndGlyphs"  stroke="#1e1e1e" stroke-width="0.15">Antral</text>
<text x="371.3" y="597" font-size="10.5" fill="#1e1e1e" text-anchor="middle" textLength="34" lengthAdjust="spacingAndGlyphs"  stroke="#1e1e1e" stroke-width="0.15">follicle</text>
<line x1="461.5" y1="566.3" x2="461.5" y2="570.8" stroke="#6e6e6e" stroke-width="1" />
<text x="461.5" y="584.5" font-size="10.5" fill="#1e1e1e" text-anchor="middle" textLength="24.7" lengthAdjust="spacingAndGlyphs"  stroke="#1e1e1e" stroke-width="0.15">Total</text>
<text x="461.5" y="597" font-size="10.5" fill="#1e1e1e" text-anchor="middle" textLength="34" lengthAdjust="spacingAndGlyphs"  stroke="#1e1e1e" stroke-width="0.15">follicle</text>
<text x="90.2" y="458.4" font-size="10.5" fill="#1e1e1e" text-anchor="middle"  stroke="#1e1e1e" stroke-width="0.15">NS</text>
<text x="180.7" y="529.8" font-size="10.5" fill="#1e1e1e" text-anchor="middle"  stroke="#1e1e1e" stroke-width="0.15">NS</text>
<text x="220.6" y="523.6" font-size="10.5" fill="#1e1e1e" text-anchor="middle"  stroke="#1e1e1e" stroke-width="0.15">NS</text>
<text x="270" y="551.7" font-size="10.5" fill="#1e1e1e" text-anchor="middle"  stroke="#1e1e1e" stroke-width="0.15">NS</text>
<text x="310.4" y="548.8" font-size="10.5" fill="#1e1e1e" text-anchor="middle"  stroke="#1e1e1e" stroke-width="0.15">NS</text>
<text x="361" y="555" font-size="10.5" fill="#1e1e1e" text-anchor="middle"  stroke="#1e1e1e" stroke-width="0.15">NS</text>
<text x="401" y="555" font-size="10.5" fill="#1e1e1e" text-anchor="middle"  stroke="#1e1e1e" stroke-width="0.15">NS</text>
<text x="451.3" y="449.4" font-size="10.5" fill="#1e1e1e" text-anchor="middle"  stroke="#1e1e1e" stroke-width="0.15">NS</text>
<polygon points="127.85,479.15 128.58,480.9 130.47,481.05 129.03,482.28 129.47,484.12 127.85,483.14 126.23,484.12 126.67,482.28 125.23,481.05 127.12,480.9" fill="#222"/>
<polygon points="133.75,479.15 134.48,480.9 136.37,481.05 134.93,482.28 135.37,484.12 133.75,483.14 132.13,484.12 132.57,482.28 131.13,481.05 133.02,480.9" fill="#222"/>
<polygon points="491.4,447.45 492.13,449.2 494.02,449.35 492.58,450.58 493.02,452.42 491.4,451.44 489.78,452.42 490.22,450.58 488.78,449.35 490.67,449.2" fill="#222"/>
<circle cx="267.9" cy="454.9" r="2.2" fill="#8a8a8a"/>
<text x="275.5" y="458.5" font-size="9.9" fill="#1e1e1e"   stroke="#1e1e1e" stroke-width="0.15">WT</text>
<circle cx="267.9" cy="469.27" r="2.2" fill="#2b2b2b"/>
<text x="275.5" y="472.87" font-size="9.9" fill="#1e1e1e"   stroke="#1e1e1e" stroke-width="0.15">WT + Rapa</text>
<circle cx="267.9" cy="483.64" r="2.2" fill="#8fbdf6"/>
<text x="275.5" y="487.24" font-size="9.9" fill="#1e1e1e" stroke="#1e1e1e" stroke-width="0.15"><tspan font-style="italic">Ncoa7</tspan><tspan font-size="6.8" dy="-3.8">&#8722;/&#8722;</tspan></text>
<circle cx="267.9" cy="498.01" r="2.2" fill="#4b98f2"/>
<text x="275.5" y="501.61" font-size="9.9" fill="#1e1e1e" stroke="#1e1e1e" stroke-width="0.15"><tspan font-style="italic">Ncoa7</tspan><tspan font-size="6.8" dy="-3.8">&#8722;/&#8722;</tspan><tspan dy="3.8">+Rapa</tspan></text>
<text x="-0.5" y="626.6" font-size="15.5" fill="#000" font-weight="bold"  stroke="#000" stroke-width="0.15">g</text>
<text x="17.5" y="629.9" font-size="10.5" fill="#1e1e1e" textLength="61.7" lengthAdjust="spacingAndGlyphs"  stroke="#1e1e1e" stroke-width="0.15">Mouse ovary</text>
<line x1="275.3" y1="643.8" x2="275.3" y2="760.9" stroke="#6e6e6e" stroke-width="1" />
<line x1="270.8" y1="643.8" x2="275.3" y2="643.8" stroke="#6e6e6e" stroke-width="1" />
<text x="269.4" y="647" font-size="10" fill="#1e1e1e" text-anchor="end"  stroke="#1e1e1e" stroke-width="0.15">50</text>
<line x1="270.8" y1="667.22" x2="275.3" y2="667.22" stroke="#6e6e6e" stroke-width="1" />
<text x="269.4" y="670.42" font-size="10" fill="#1e1e1e" text-anchor="end"  stroke="#1e1e1e" stroke-width="0.15">40</text>
<line x1="270.8" y1="690.64" x2="275.3" y2="690.64" stroke="#6e6e6e" stroke-width="1" />
<text x="269.4" y="693.84" font-size="10" fill="#1e1e1e" text-anchor="end"  stroke="#1e1e1e" stroke-width="0.15">30</text>
<line x1="270.8" y1="714.06" x2="275.3" y2="714.06" stroke="#6e6e6e" stroke-width="1" />
<text x="269.4" y="717.26" font-size="10" fill="#1e1e1e" text-anchor="end"  stroke="#1e1e1e" stroke-width="0.15">20</text>
<line x1="270.8" y1="737.48" x2="275.3" y2="737.48" stroke="#6e6e6e" stroke-width="1" />
<text x="269.4" y="740.68" font-size="10" fill="#1e1e1e" text-anchor="end"  stroke="#1e1e1e" stroke-width="0.15">10</text>
<line x1="270.8" y1="760.9" x2="275.3" y2="760.9" stroke="#6e6e6e" stroke-width="1" />
<text x="269.4" y="764.1" font-size="10" fill="#1e1e1e" text-anchor="end"  stroke="#1e1e1e" stroke-width="0.15">0</text>
<line x1="275.3" y1="760.9" x2="378.9" y2="760.9" stroke="#6e6e6e" stroke-width="1.2" />
<text transform="translate(246.4 702.3) rotate(-90)" font-size="10.5" fill="#1e1e1e" text-anchor="middle" textLength="79.9" lengthAdjust="spacingAndGlyphs" stroke="#1e1e1e" stroke-width="0.15">Positive area (%)</text>
<rect x="281.5" y="727.4" width="18.6" height="33.5" fill="#a8a8a8"/>
<line x1="290.8" y1="724.3" x2="290.8" y2="730.5" stroke="#cfcfcf" stroke-width="0.8" />
<line x1="287.27" y1="724.3" x2="294.33" y2="724.3" stroke="#cfcfcf" stroke-width="0.8" />
<line x1="287.27" y1="730.5" x2="294.33" y2="730.5" stroke="#cfcfcf" stroke-width="0.8" />
<circle cx="290.8" cy="716.5" r="2.2" fill="#8a8a8a"/>
<circle cx="290.8" cy="722.1" r="2.2" fill="#8a8a8a"/>
<circle cx="286.5" cy="729.6" r="2.2" fill="#8a8a8a"/>
<circle cx="293.5" cy="729.6" r="2.2" fill="#8a8a8a"/>
<circle cx="290.8" cy="732.4" r="2.2" fill="#8a8a8a"/>
<circle cx="290.8" cy="737.5" r="2.2" fill="#8a8a8a"/>
<rect x="302.3" y="745.6" width="18.6" height="15.3" fill="#7e7e7e"/>
<line x1="311.6" y1="742.3" x2="311.6" y2="748.9" stroke="#444" stroke-width="0.8" />
<line x1="308.07" y1="742.3" x2="315.13" y2="742.3" stroke="#444" stroke-width="0.8" />
<line x1="308.07" y1="748.9" x2="315.13" y2="748.9" stroke="#444" stroke-width="0.8" />
<circle cx="311.6" cy="735.1" r="2.2" fill="#2b2b2b"/>
<circle cx="311.6" cy="741.2" r="2.2" fill="#2b2b2b"/>
<circle cx="307.7" cy="747.1" r="2.2" fill="#2b2b2b"/>
<circle cx="315.4" cy="745.6" r="2.2" fill="#2b2b2b"/>
<circle cx="307.7" cy="753.2" r="2.2" fill="#2b2b2b"/>
<circle cx="315.4" cy="753.2" r="2.2" fill="#2b2b2b"/>
<rect x="332.9" y="678.8" width="18.6" height="82.1" fill="#b9cadb"/>
<line x1="342.2" y1="670.5" x2="342.2" y2="686" stroke="#8a8a8a" stroke-width="0.8" />
<line x1="338.67" y1="670.5" x2="345.73" y2="670.5" stroke="#8a8a8a" stroke-width="0.8" />
<line x1="338.67" y1="686" x2="345.73" y2="686" stroke="#8a8a8a" stroke-width="0.8" />
<circle cx="342.2" cy="651" r="2.2" fill="#8fbdf6"/>
<circle cx="342.2" cy="667" r="2.2" fill="#8fbdf6"/>
<circle cx="342.2" cy="676" r="2.2" fill="#8fbdf6"/>
<circle cx="342.2" cy="682.1" r="2.2" fill="#8fbdf6"/>
<circle cx="342.2" cy="690.4" r="2.2" fill="#8fbdf6"/>
<circle cx="342.2" cy="704.4" r="2.2" fill="#8fbdf6"/>
<rect x="353.7" y="727" width="19.1" height="33.9" fill="#88a8d4"/>
<line x1="363.25" y1="722.6" x2="363.25" y2="731.3" stroke="#666" stroke-width="0.8" />
<line x1="359.62" y1="722.6" x2="366.88" y2="722.6" stroke="#666" stroke-width="0.8" />
<line x1="359.62" y1="731.3" x2="366.88" y2="731.3" stroke="#666" stroke-width="0.8" />
<circle cx="363.25" cy="710.5" r="2.2" fill="#4b98f2"/>
<circle cx="363.25" cy="718.2" r="2.2" fill="#4b98f2"/>
<circle cx="363.25" cy="724.8" r="2.2" fill="#4b98f2"/>
<circle cx="363.25" cy="730.7" r="2.2" fill="#4b98f2"/>
<circle cx="363.25" cy="735.7" r="2.2" fill="#4b98f2"/>
<circle cx="363.25" cy="740.5" r="2.2" fill="#4b98f2"/>
<polygon points="308.55,722.35 309.28,724.1 311.17,724.25 309.73,725.48 310.17,727.32 308.55,726.34 306.93,727.32 307.37,725.48 305.93,724.25 307.82,724.1" fill="#222"/>
<polygon points="314.45,722.35 315.18,724.1 317.07,724.25 315.63,725.48 316.07,727.32 314.45,726.34 312.83,727.32 313.27,725.48 311.83,724.25 313.72,724.1" fill="#222"/>
<polygon points="357.2,697.55 357.93,699.3 359.82,699.45 358.38,700.68 358.82,702.52 357.2,701.54 355.58,702.52 356.02,700.68 354.58,699.45 356.47,699.3" fill="#222"/>
<polygon points="363.1,697.55 363.83,699.3 365.72,699.45 364.28,700.68 364.72,702.52 363.1,701.54 361.48,702.52 361.92,700.68 360.48,699.45 362.37,699.3" fill="#222"/>
<polygon points="369,697.55 369.73,699.3 371.62,699.45 370.18,700.68 370.62,702.52 369,701.54 367.38,702.52 367.82,700.68 366.38,699.45 368.27,699.3" fill="#222"/>
<text x="248.6" y="775.1" font-size="10.5" fill="#1e1e1e"   stroke="#1e1e1e" stroke-width="0.15">Rapa</text>
<text x="290.8" y="775.1" font-size="9.3" fill="#1e1e1e" text-anchor="middle"  stroke="#1e1e1e" stroke-width="0.15">&#8211;</text>
<text x="311.6" y="775.1" font-size="9.3" fill="#1e1e1e" text-anchor="middle"  stroke="#1e1e1e" stroke-width="0.15">+</text>
<text x="342.2" y="775.1" font-size="9.3" fill="#1e1e1e" text-anchor="middle"  stroke="#1e1e1e" stroke-width="0.15">&#8211;</text>
<text x="363.2" y="775.1" font-size="9.3" fill="#1e1e1e" text-anchor="middle"  stroke="#1e1e1e" stroke-width="0.15">+</text>
<line x1="281.5" y1="780.6" x2="320.2" y2="780.6" stroke="#a0a0a0" stroke-width="1" />
<text x="300.85" y="794.4" font-size="10.5" fill="#1e1e1e" text-anchor="middle"  stroke="#1e1e1e" stroke-width="0.15">WT</text>
<line x1="334" y1="780.6" x2="373.9" y2="780.6" stroke="#a0a0a0" stroke-width="1" />
<text x="353.95" y="794.4" font-size="10.5" fill="#1e1e1e" text-anchor="middle" stroke="#1e1e1e" stroke-width="0.15"><tspan font-style="italic">Ncoa7</tspan><tspan font-size="6.8" dy="-3.6">&#8722;/&#8722;</tspan></text>
<text x="519.2" y="427.4" font-size="15.5" fill="#000" font-weight="bold"  stroke="#000" stroke-width="0.15">h</text>
<text x="573.8" y="441" font-size="10.5" fill="#1e1e1e" textLength="62.1" lengthAdjust="spacingAndGlyphs"  stroke="#1e1e1e" stroke-width="0.15">Mouse ovary</text>
<line x1="575.1" y1="455.41" x2="575.1" y2="567.4" stroke="#6e6e6e" stroke-width="1" />
<line x1="570.6" y1="455.41" x2="575.1" y2="455.41" stroke="#6e6e6e" stroke-width="1" />
<text x="565.9" y="458.61" font-size="10" fill="#1e1e1e" text-anchor="end"  stroke="#1e1e1e" stroke-width="0.15">1.0</text>
<line x1="570.6" y1="492.74" x2="575.1" y2="492.74" stroke="#6e6e6e" stroke-width="1" />
<text x="565.9" y="495.94" font-size="10" fill="#1e1e1e" text-anchor="end"  stroke="#1e1e1e" stroke-width="0.15">0.9</text>
<line x1="570.6" y1="530.07" x2="575.1" y2="530.07" stroke="#6e6e6e" stroke-width="1" />
<text x="565.9" y="533.27" font-size="10" fill="#1e1e1e" text-anchor="end"  stroke="#1e1e1e" stroke-width="0.15">0.8</text>
<line x1="570.6" y1="567.4" x2="575.1" y2="567.4" stroke="#6e6e6e" stroke-width="1" />
<text x="565.9" y="570.6" font-size="10" fill="#1e1e1e" text-anchor="end"  stroke="#1e1e1e" stroke-width="0.15">0.7</text>
<line x1="575.1" y1="567.4" x2="673.1" y2="567.4" stroke="#6e6e6e" stroke-width="1.2" />
<text transform="translate(542.3 511.9) rotate(-90)" font-size="10.5" fill="#1e1e1e" text-anchor="middle" textLength="125.2" lengthAdjust="spacingAndGlyphs" stroke="#1e1e1e" stroke-width="0.15">SA-&#946;-gal-positive area (%)</text>
<rect x="580.8" y="532.9" width="17.8" height="34.5" fill="#a8a8a8"/>
<line x1="589.7" y1="529.6" x2="589.7" y2="536.3" stroke="#cfcfcf" stroke-width="0.8" />
<line x1="586.32" y1="529.6" x2="593.08" y2="529.6" stroke="#cfcfcf" stroke-width="0.8" />
<line x1="586.32" y1="536.3" x2="593.08" y2="536.3" stroke="#cfcfcf" stroke-width="0.8" />
<circle cx="589.7" cy="525.9" r="2.2" fill="#8a8a8a"/>
<circle cx="589.7" cy="533.4" r="2.2" fill="#8a8a8a"/>
<circle cx="589.7" cy="540.3" r="2.2" fill="#8a8a8a"/>
<rect x="600.6" y="542.8" width="17.9" height="24.6" fill="#7e7e7e"/>
<line x1="609.55" y1="539.6" x2="609.55" y2="546.5" stroke="#444" stroke-width="0.8" />
<line x1="606.15" y1="539.6" x2="612.95" y2="539.6" stroke="#444" stroke-width="0.8" />
<line x1="606.15" y1="546.5" x2="612.95" y2="546.5" stroke="#444" stroke-width="0.8" />
<circle cx="609.55" cy="536.6" r="2.2" fill="#2b2b2b"/>
<circle cx="609.55" cy="544" r="2.2" fill="#2b2b2b"/>
<circle cx="609.55" cy="549" r="2.2" fill="#2b2b2b"/>
<rect x="629.2" y="483.7" width="17.8" height="83.7" fill="#b9cadb"/>
<line x1="638.1" y1="477.5" x2="638.1" y2="490.2" stroke="#8a8a8a" stroke-width="0.8" />
<line x1="634.72" y1="477.5" x2="641.48" y2="477.5" stroke="#8a8a8a" stroke-width="0.8" />
<line x1="634.72" y1="490.2" x2="641.48" y2="490.2" stroke="#8a8a8a" stroke-width="0.8" />
<circle cx="638.1" cy="472" r="2.2" fill="#8fbdf6"/>
<circle cx="638.1" cy="483.7" r="2.2" fill="#8fbdf6"/>
<circle cx="638.1" cy="495.1" r="2.2" fill="#8fbdf6"/>
<rect x="649" y="542.5" width="18.1" height="24.9" fill="#8fbaf4"/>
<line x1="658.05" y1="539.1" x2="658.05" y2="545" stroke="#666" stroke-width="0.8" />
<line x1="654.61" y1="539.1" x2="661.49" y2="539.1" stroke="#666" stroke-width="0.8" />
<line x1="654.61" y1="545" x2="661.49" y2="545" stroke="#666" stroke-width="0.8" />
<circle cx="658.05" cy="536.3" r="2.2" fill="#4b98f2"/>
<circle cx="658.05" cy="541.6" r="2.2" fill="#4b98f2"/>
<circle cx="658.05" cy="547.5" r="2.2" fill="#4b98f2"/>
<text x="610" y="530.4" font-size="10.5" fill="#1e1e1e" text-anchor="middle"  stroke="#1e1e1e" stroke-width="0.15">NS</text>
<polygon points="655.55,524.25 656.28,526 658.17,526.15 656.73,527.38 657.17,529.22 655.55,528.24 653.93,529.22 654.37,527.38 652.93,526.15 654.82,526" fill="#222"/>
<polygon points="661.45,524.25 662.18,526 664.07,526.15 662.63,527.38 663.07,529.22 661.45,528.24 659.83,529.22 660.27,527.38 658.83,526.15 660.72,526" fill="#222"/>
<text x="551.6" y="582" font-size="10.5" fill="#1e1e1e"   stroke="#1e1e1e" stroke-width="0.15">Rapa</text>
<text x="589.7" y="582" font-size="9.3" fill="#1e1e1e" text-anchor="middle"  stroke="#1e1e1e" stroke-width="0.15">&#8211;</text>
<text x="609.5" y="582" font-size="9.3" fill="#1e1e1e" text-anchor="middle"  stroke="#1e1e1e" stroke-width="0.15">+</text>
<text x="638.1" y="582" font-size="9.3" fill="#1e1e1e" text-anchor="middle"  stroke="#1e1e1e" stroke-width="0.15">&#8211;</text>
<text x="658" y="582" font-size="9.3" fill="#1e1e1e" text-anchor="middle"  stroke="#1e1e1e" stroke-width="0.15">+</text>
<line x1="582.3" y1="588.6" x2="615.8" y2="588.6" stroke="#a0a0a0" stroke-width="1" />
<text x="599.05" y="600.7" font-size="10.5" fill="#1e1e1e" text-anchor="middle"  stroke="#1e1e1e" stroke-width="0.15">WT</text>
<line x1="631" y1="588.6" x2="664.9" y2="588.6" stroke="#a0a0a0" stroke-width="1" />
<text x="647.95" y="600.7" font-size="10.5" fill="#1e1e1e" text-anchor="middle" stroke="#1e1e1e" stroke-width="0.15"><tspan font-style="italic">Ncoa7</tspan><tspan font-size="6.8" dy="-3.6">&#8722;/&#8722;</tspan></text>
<text x="428.4" y="624.7" font-size="15.5" fill="#000" font-weight="bold"  stroke="#000" stroke-width="0.15">i</text>
<text x="472.7" y="629.8" font-size="10.5" fill="#1e1e1e" textLength="61.7" lengthAdjust="spacingAndGlyphs"  stroke="#1e1e1e" stroke-width="0.15">Mouse ovary</text>
<line x1="476.6" y1="646.8" x2="476.6" y2="758.3" stroke="#6e6e6e" stroke-width="1" />
<line x1="472.1" y1="646.8" x2="476.6" y2="646.8" stroke="#6e6e6e" stroke-width="1" />
<text x="467.4" y="650" font-size="10" fill="#1e1e1e" text-anchor="end"  stroke="#1e1e1e" stroke-width="0.15">0.25</text>
<line x1="472.1" y1="669.1" x2="476.6" y2="669.1" stroke="#6e6e6e" stroke-width="1" />
<text x="467.4" y="672.3" font-size="10" fill="#1e1e1e" text-anchor="end"  stroke="#1e1e1e" stroke-width="0.15">0.20</text>
<line x1="472.1" y1="691.4" x2="476.6" y2="691.4" stroke="#6e6e6e" stroke-width="1" />
<text x="467.4" y="694.6" font-size="10" fill="#1e1e1e" text-anchor="end"  stroke="#1e1e1e" stroke-width="0.15">0.15</text>
<line x1="472.1" y1="713.7" x2="476.6" y2="713.7" stroke="#6e6e6e" stroke-width="1" />
<text x="467.4" y="716.9" font-size="10" fill="#1e1e1e" text-anchor="end"  stroke="#1e1e1e" stroke-width="0.15">0.10</text>
<line x1="472.1" y1="736" x2="476.6" y2="736" stroke="#6e6e6e" stroke-width="1" />
<text x="467.4" y="739.2" font-size="10" fill="#1e1e1e" text-anchor="end"  stroke="#1e1e1e" stroke-width="0.15">0.05</text>
<line x1="472.1" y1="758.3" x2="476.6" y2="758.3" stroke="#6e6e6e" stroke-width="1" />
<text x="467.4" y="761.5" font-size="10" fill="#1e1e1e" text-anchor="end"  stroke="#1e1e1e" stroke-width="0.15">0</text>
<line x1="476.6" y1="758.3" x2="671.4" y2="758.3" stroke="#6e6e6e" stroke-width="1.2" />
<line x1="573.2" y1="646" x2="573.2" y2="758.3" stroke="#bdbdbd" stroke-width="1.6" />
<text transform="translate(438.6 702) rotate(-90)" font-size="10.5" fill="#1e1e1e" text-anchor="middle" textLength="74.7" lengthAdjust="spacingAndGlyphs" stroke="#1e1e1e" stroke-width="0.15">Optical density</text>
<text x="485" y="650.5" font-size="10.5" fill="#1e1e1e" stroke="#1e1e1e" stroke-width="0.15">p16<tspan font-size="7" dy="-4.6">INK4a</tspan></text>
<text x="582.4" y="650.4" font-size="10.5" fill="#1e1e1e" stroke="#1e1e1e" stroke-width="0.15">p21<tspan font-size="7" dy="-4.6">Cip1</tspan></text>
<rect x="481.7" y="710.8" width="18" height="47.5" fill="#a8a8a8"/>
<line x1="490.7" y1="706.5" x2="490.7" y2="712.2" stroke="#cfcfcf" stroke-width="0.8" />
<line x1="487.28" y1="706.5" x2="494.12" y2="706.5" stroke="#cfcfcf" stroke-width="0.8" />
<line x1="487.28" y1="712.2" x2="494.12" y2="712.2" stroke="#cfcfcf" stroke-width="0.8" />
<circle cx="490.7" cy="703" r="2.2" fill="#8a8a8a"/>
<circle cx="486.8" cy="715.3" r="2.2" fill="#8a8a8a"/>
<circle cx="494.6" cy="713.8" r="2.2" fill="#8a8a8a"/>
<rect x="502.2" y="701" width="17.9" height="57.3" fill="#7e7e7e"/>
<line x1="511.15" y1="697.3" x2="511.15" y2="704.6" stroke="#444" stroke-width="0.8" />
<line x1="507.75" y1="697.3" x2="514.55" y2="697.3" stroke="#444" stroke-width="0.8" />
<line x1="507.75" y1="704.6" x2="514.55" y2="704.6" stroke="#444" stroke-width="0.8" />
<circle cx="511.15" cy="693.8" r="2.2" fill="#2b2b2b"/>
<circle cx="511.15" cy="703" r="2.2" fill="#2b2b2b"/>
<circle cx="511.15" cy="709.1" r="2.2" fill="#2b2b2b"/>
<rect x="531" y="666.6" width="18.2" height="91.7" fill="#b9cadb"/>
<line x1="540.1" y1="665.2" x2="540.1" y2="667.8" stroke="#8a8a8a" stroke-width="0.8" />
<line x1="536.64" y1="665.2" x2="543.56" y2="665.2" stroke="#8a8a8a" stroke-width="0.8" />
<line x1="536.64" y1="667.8" x2="543.56" y2="667.8" stroke="#8a8a8a" stroke-width="0.8" />
<circle cx="536.1" cy="664.2" r="2.2" fill="#8fbdf6"/>
<circle cx="539.6" cy="666.6" r="2.2" fill="#8fbdf6"/>
<circle cx="542.6" cy="666.8" r="2.2" fill="#8fbdf6"/>
<rect x="551.1" y="696" width="17.8" height="62.3" fill="#88a8d4"/>
<line x1="560" y1="693.8" x2="560" y2="698.1" stroke="#666" stroke-width="0.8" />
<line x1="556.62" y1="693.8" x2="563.38" y2="693.8" stroke="#666" stroke-width="0.8" />
<line x1="556.62" y1="698.1" x2="563.38" y2="698.1" stroke="#666" stroke-width="0.8" />
<circle cx="560" cy="690.9" r="2.2" fill="#4b98f2"/>
<circle cx="560" cy="696.4" r="2.2" fill="#4b98f2"/>
<circle cx="560" cy="700.5" r="2.2" fill="#4b98f2"/>
<rect x="578.7" y="695.4" width="18" height="62.9" fill="#a8a8a8"/>
<line x1="587.7" y1="693.4" x2="587.7" y2="696.4" stroke="#cfcfcf" stroke-width="0.8" />
<line x1="584.28" y1="693.4" x2="591.12" y2="693.4" stroke="#cfcfcf" stroke-width="0.8" />
<line x1="584.28" y1="696.4" x2="591.12" y2="696.4" stroke="#cfcfcf" stroke-width="0.8" />
<circle cx="587.5" cy="690.9" r="2.2" fill="#8a8a8a"/>
<circle cx="583.8" cy="699.1" r="2.2" fill="#8a8a8a"/>
<circle cx="591" cy="696.4" r="2.2" fill="#8a8a8a"/>
<rect x="598.8" y="695.8" width="18.1" height="62.5" fill="#7e7e7e"/>
<line x1="607.85" y1="689.3" x2="607.85" y2="702.6" stroke="#444" stroke-width="0.8" />
<line x1="604.41" y1="689.3" x2="611.29" y2="689.3" stroke="#444" stroke-width="0.8" />
<line x1="604.41" y1="702.6" x2="611.29" y2="702.6" stroke="#444" stroke-width="0.8" />
<circle cx="607.85" cy="685.2" r="2.2" fill="#2b2b2b"/>
<circle cx="607.85" cy="693.8" r="2.2" fill="#2b2b2b"/>
<circle cx="607.85" cy="708.1" r="2.2" fill="#2b2b2b"/>
<rect x="627.8" y="666.2" width="18" height="92.1" fill="#b9cadb"/>
<circle cx="629.2" cy="665.8" r="2.2" fill="#8fbdf6"/>
<circle cx="636.4" cy="665.8" r="2.2" fill="#8fbdf6"/>
<circle cx="643.7" cy="666.2" r="2.2" fill="#8fbdf6"/>
<rect x="647.8" y="707.7" width="17.8" height="50.6" fill="#88a8d4"/>
<circle cx="649.2" cy="707.7" r="2.2" fill="#4b98f2"/>
<circle cx="656.4" cy="706.6" r="2.2" fill="#4b98f2"/>
<circle cx="663.5" cy="707.3" r="2.2" fill="#4b98f2"/>
<text x="509.9" y="682.6" font-size="10.5" fill="#1e1e1e" text-anchor="middle"  stroke="#1e1e1e" stroke-width="0.15">NS</text>
<text x="607.3" y="678" font-size="10.5" fill="#1e1e1e" text-anchor="middle"  stroke="#1e1e1e" stroke-width="0.15">NS</text>
<polygon points="554.1,677.65 554.83,679.4 556.72,679.55 555.28,680.78 555.72,682.62 554.1,681.64 552.48,682.62 552.92,680.78 551.48,679.55 553.37,679.4" fill="#222"/>
<polygon points="560,677.65 560.73,679.4 562.62,679.55 561.18,680.78 561.62,682.62 560,681.64 558.38,682.62 558.82,680.78 557.38,679.55 559.27,679.4" fill="#222"/>
<polygon points="565.9,677.65 566.63,679.4 568.52,679.55 567.08,680.78 567.52,682.62 565.9,681.64 564.28,682.62 564.72,680.78 563.28,679.55 565.17,679.4" fill="#222"/>
<polygon points="648.15,693.95 648.88,695.7 650.77,695.85 649.33,697.08 649.77,698.92 648.15,697.94 646.53,698.92 646.97,697.08 645.53,695.85 647.42,695.7" fill="#222"/>
<polygon points="654.05,693.95 654.78,695.7 656.67,695.85 655.23,697.08 655.67,698.92 654.05,697.94 652.43,698.92 652.87,697.08 651.43,695.85 653.32,695.7" fill="#222"/>
<polygon points="659.95,693.95 660.68,695.7 662.57,695.85 661.13,697.08 661.57,698.92 659.95,697.94 658.33,698.92 658.77,697.08 657.33,695.85 659.22,695.7" fill="#222"/>
<polygon points="665.85,693.95 666.58,695.7 668.47,695.85 667.03,697.08 667.47,698.92 665.85,697.94 664.23,698.92 664.67,697.08 663.23,695.85 665.12,695.7" fill="#222"/>
<text x="448.6" y="770.4" font-size="10.5" fill="#1e1e1e"   stroke="#1e1e1e" stroke-width="0.15">Rapa</text>
<text x="490.7" y="770.4" font-size="9.3" fill="#1e1e1e" text-anchor="middle"  stroke="#1e1e1e" stroke-width="0.15">&#8211;</text>
<text x="511.1" y="770.4" font-size="9.3" fill="#1e1e1e" text-anchor="middle"  stroke="#1e1e1e" stroke-width="0.15">+</text>
<text x="540.1" y="770.4" font-size="9.3" fill="#1e1e1e" text-anchor="middle"  stroke="#1e1e1e" stroke-width="0.15">&#8211;</text>
<text x="560" y="770.4" font-size="9.3" fill="#1e1e1e" text-anchor="middle"  stroke="#1e1e1e" stroke-width="0.15">+</text>
<text x="587.7" y="770.4" font-size="9.3" fill="#1e1e1e" text-anchor="middle"  stroke="#1e1e1e" stroke-width="0.15">&#8211;</text>
<text x="607.8" y="770.4" font-size="9.3" fill="#1e1e1e" text-anchor="middle"  stroke="#1e1e1e" stroke-width="0.15">+</text>
<text x="636.8" y="770.4" font-size="9.3" fill="#1e1e1e" text-anchor="middle"  stroke="#1e1e1e" stroke-width="0.15">&#8211;</text>
<text x="656.7" y="770.4" font-size="9.3" fill="#1e1e1e" text-anchor="middle"  stroke="#1e1e1e" stroke-width="0.15">+</text>
<line x1="483.1" y1="775.5" x2="516.9" y2="775.5" stroke="#a0a0a0" stroke-width="1" />
<text x="500" y="789.7" font-size="10.5" fill="#1e1e1e" text-anchor="middle"  stroke="#1e1e1e" stroke-width="0.15">WT</text>
<line x1="531.5" y1="775.5" x2="566.5" y2="775.5" stroke="#a0a0a0" stroke-width="1" />
<text x="549" y="789.7" font-size="10.5" fill="#1e1e1e" text-anchor="middle" stroke="#1e1e1e" stroke-width="0.15"><tspan font-style="italic">Ncoa7</tspan><tspan font-size="6.8" dy="-3.6">&#8722;/&#8722;</tspan></text>
<line x1="580" y1="775.5" x2="614.5" y2="775.5" stroke="#a0a0a0" stroke-width="1" />
<text x="597.25" y="789.7" font-size="10.5" fill="#1e1e1e" text-anchor="middle"  stroke="#1e1e1e" stroke-width="0.15">WT</text>
<line x1="629" y1="775.5" x2="663.5" y2="775.5" stroke="#a0a0a0" stroke-width="1" />
<text x="646.25" y="789.7" font-size="10.5" fill="#1e1e1e" text-anchor="middle" stroke="#1e1e1e" stroke-width="0.15"><tspan font-style="italic">Ncoa7</tspan><tspan font-size="6.8" dy="-3.6">&#8722;/&#8722;</tspan></text>
<defs><filter id="tx" x="0" y="0" width="100%" height="100%" color-interpolation-filters="sRGB"><feTurbulence type="fractalNoise" baseFrequency="0.13" numOctaves="2" seed="2" result="a0"/><feColorMatrix in="a0" type="matrix" values="1 0 0 0 0  1 0 0 0 0  1 0 0 0 0  0 0 0 0 1" result="a"/><feTurbulence type="fractalNoise" baseFrequency="1.1" numOctaves="1" seed="9" result="b0"/><feColorMatrix in="b0" type="matrix" values="1 0 0 0 0  1 0 0 0 0  1 0 0 0 0  0 0 0 0 1" result="b"/><feComposite in="a" in2="b" operator="arithmetic" k1="0" k2="0.6" k3="0.45" k4="0.34" result="c"/><feGaussianBlur in="c" stdDeviation="0.3"/></filter><filter id="tx2" x="0" y="0" width="100%" height="100%" color-interpolation-filters="sRGB"><feTurbulence type="fractalNoise" baseFrequency="0.13" numOctaves="2" seed="4" result="a0"/><feColorMatrix in="a0" type="matrix" values="1 0 0 0 0  1 0 0 0 0  1 0 0 0 0  0 0 0 0 1" result="a"/><feTurbulence type="fractalNoise" baseFrequency="1.1" numOctaves="1" seed="9" result="b0"/><feColorMatrix in="b0" type="matrix" values="1 0 0 0 0  1 0 0 0 0  1 0 0 0 0  0 0 0 0 1" result="b"/><feComposite in="a" in2="b" operator="arithmetic" k1="0" k2="0.6" k3="0.5" k4="0.27" result="c"/><feGaussianBlur in="c" stdDeviation="0.3"/></filter><filter id="tx3" x="0" y="0" width="100%" height="100%" color-interpolation-filters="sRGB"><feTurbulence type="fractalNoise" baseFrequency="0.13" numOctaves="2" seed="6" result="a0"/><feColorMatrix in="a0" type="matrix" values="1 0 0 0 0  1 0 0 0 0  1 0 0 0 0  0 0 0 0 1" result="a"/><feTurbulence type="fractalNoise" baseFrequency="1.1" numOctaves="1" seed="9" result="b0"/><feColorMatrix in="b0" type="matrix" values="1 0 0 0 0  1 0 0 0 0  1 0 0 0 0  0 0 0 0 1" result="b"/><feComposite in="a" in2="b" operator="arithmetic" k1="0" k2="0.5" k3="0.5" k4="0.26" result="c"/><feGaussianBlur in="c" stdDeviation="0.3"/></filter><filter id="rd" x="0" y="0" width="100%" height="100%" color-interpolation-filters="sRGB"><feTurbulence type="fractalNoise" baseFrequency="0.7" numOctaves="2" seed="11" result="n"/><feColorMatrix in="n" type="matrix" values="0 0 0 0 0.93  0 0 0 0 0.1  0 0 0 0 0.12  -20 0 0 0 9.3"/></filter><filter id="rd4" x="0" y="0" width="100%" height="100%" color-interpolation-filters="sRGB"><feTurbulence type="fractalNoise" baseFrequency="1.5" numOctaves="1" seed="21" result="n"/><feColorMatrix in="n" type="matrix" values="0 0 0 0 0.92  0 0 0 0 0.2  0 0 0 0 0.2  -16 0 0 0 4.2"/></filter><filter id="rd3" x="0" y="0" width="100%" height="100%" color-interpolation-filters="sRGB"><feTurbulence type="fractalNoise" baseFrequency="1.3" numOctaves="1" seed="5" result="n"/><feColorMatrix in="n" type="matrix" values="0 0 0 0 0.9  0 0 0 0 0.15  0 0 0 0 0.15  -30 0 0 0 8.1"/></filter><filter id="rd2" x="0" y="0" width="100%" height="100%" color-interpolation-filters="sRGB"><feTurbulence type="fractalNoise" baseFrequency="1.3" numOctaves="1" seed="5" result="n"/><feColorMatrix in="n" type="matrix" values="0 0 0 0 0.9  0 0 0 0 0.15  0 0 0 0 0.15  -25 0 0 0 7.55"/></filter>
<clipPath id="tc0"><path d="M17.5,670.7 C21,666 25,663 29.6,660.5 C34,655 39,650 44.2,648.8 C50,647.6 56,647.3 61.7,648.1 C68,649.5 75,652 80.7,654.7 C86,657 92,658.5 96.8,660.5 C100,663 101,667 102.6,668.5 C105,668.2 107,668.6 108.4,669.3 C110.5,670 111.8,671 112.7,672.2 L112.7,709.5 L17.5,709.5 Z"/></clipPath>
<clipPath id="tc1"><path d="M114.8,657.6 C116.5,654 118.5,651.5 120.8,650.3 C125,649.2 129,649 133.9,648.8 C140,648 146,647.2 152.9,646.6 C160,645.8 165,645.3 170.4,645.2 L205.4,645.3 C207,648 208.2,652 209,657.6 L209,700 C208,703 206.5,706 204,709.5 L114.8,709.5 Z"/></clipPath>
<clipPath id="tc2"><path d="M17.5,711.6 L112.7,711.6 L112.7,764.5 C110,765.4 109,766 108.4,766 C104,763 100,761.5 96.8,760.8 C90,760.2 85,761 80.7,763 C77,765 75,769 73.4,773.2 L72,776.2 L58,776.2 C57,775 56.5,774 55.9,773.2 C51,772 47,771.2 44.2,770.3 C38,768.5 33,766.5 29.6,764.5 C25,761 21,757 17.5,752.8 Z"/></clipPath>
<clipPath id="tc3"><path d="M114.8,711.6 L199.6,711.6 C202,715 204,719 205.4,723.6 C206.5,731 206.5,738 205.4,745.5 C204,750 202,754 199.6,757.2 C197,759.5 195.5,761 192.3,764.5 C185,767 175,769 165,770.3 C160,770.6 158,770.5 155.8,770.3 C148,769.5 142,767.5 138.3,765.9 C134,764 130,762 126.6,760.1 C122,758.5 118,757.8 114.8,757.2 Z"/></clipPath>
<filter id="mb" x="-20%" y="-20%" width="140%" height="140%"><feGaussianBlur stdDeviation="3"/></filter><mask id="rm"><rect x="17.5" y="711.6" width="95.2" height="64.6" fill="#fff" fill-opacity="0.4"/><path filter="url(#mb)" fill="#fff" d="M17.5,738 C26,734 40,734 50,728 C60,724 70,728 78,734 C86,740 98,744 112.7,748 L112.7,776.2 L17.5,776.2 Z"/></mask>
</defs>
<rect x="17.5" y="645.1" width="95.2" height="64.4" fill="#f2f2f2"/>
<g clip-path="url(#tc0)">
<rect x="17.5" y="645.1" width="95.2" height="64.4" filter="url(#tx)"/>
<rect x="17.5" y="645.1" width="95.2" height="64.4" filter="url(#rd4)"/>
<ellipse cx="47.8" cy="662.5" rx="11.5" ry="13.5" fill="#000" fill-opacity="0.07" stroke="#fff" stroke-opacity="0.7" stroke-width="1.3"/>
<ellipse cx="67.5" cy="675" rx="13" ry="16" fill="#000" fill-opacity="0.07" stroke="#fff" stroke-opacity="0.7" stroke-width="1.3"/>
<ellipse cx="30" cy="688" rx="13" ry="15" fill="#000" fill-opacity="0.07" stroke="#fff" stroke-opacity="0.7" stroke-width="1.3"/>
<ellipse cx="105.5" cy="679.5" rx="9" ry="11.5" fill="#000" fill-opacity="0.07" stroke="#fff" stroke-opacity="0.7" stroke-width="1.3"/>
<ellipse cx="86" cy="668" rx="6" ry="9" fill="#000" fill-opacity="0.07" stroke="#fff" stroke-opacity="0.7" stroke-width="1.3"/>
<ellipse cx="48.6" cy="661.2" rx="2.52" ry="2.52" fill="#a0a0a0" stroke="#f6f6f6" stroke-width="1.6"/>
<ellipse cx="102.6" cy="678" rx="2.52" ry="2.8" fill="#a0a0a0" stroke="#f6f6f6" stroke-width="1.6"/>
<ellipse cx="18.5" cy="681" rx="2.1" ry="2.52" fill="#a0a0a0" stroke="#f6f6f6" stroke-width="1.6"/>
<ellipse cx="29.6" cy="691.2" rx="2.1" ry="2.1" fill="#a0a0a0" stroke="#f6f6f6" stroke-width="1.6"/>
<ellipse cx="66" cy="677" rx="4.5" ry="3" fill="#fafafa"/>
<ellipse cx="80" cy="690" rx="2.2" ry="3" fill="#fafafa"/>
<ellipse cx="60" cy="697" rx="1.6" ry="1.4" fill="#fafafa"/>
<ellipse cx="92" cy="700" rx="2" ry="1.5" fill="#fafafa"/>
<ellipse cx="75" cy="703" rx="1.5" ry="1.2" fill="#fafafa"/>
<ellipse cx="45" cy="684" rx="1.5" ry="2.5" fill="#fafafa"/>
<ellipse cx="88" cy="683" rx="1.5" ry="1.5" fill="#fafafa"/>
<path d="M78,653.8 C86,657 92,658.5 96.8,660.5" fill="none" stroke="#e02a2a" stroke-width="1.2" stroke-dasharray="1.2 1.6"/>
</g>
<rect x="114.8" y="645.1" width="94.2" height="64.4" fill="#f2f2f2"/>
<g clip-path="url(#tc1)">
<rect x="114.8" y="645.1" width="94.2" height="64.4" filter="url(#tx3)"/>
<rect x="114.8" y="645.1" width="94.2" height="64.4" filter="url(#rd3)"/>
<ellipse cx="131" cy="669.3" rx="16" ry="17.5" fill="#000" fill-opacity="0.07" stroke="#fff" stroke-opacity="0.7" stroke-width="1.3"/>
<ellipse cx="155.8" cy="686" rx="14.6" ry="18" fill="#000" fill-opacity="0.07" stroke="#fff" stroke-opacity="0.7" stroke-width="1.3"/>
<ellipse cx="128" cy="702" rx="13" ry="9" fill="#000" fill-opacity="0.07" stroke="#fff" stroke-opacity="0.7" stroke-width="1.3"/>
<ellipse cx="199" cy="690" rx="9" ry="12" fill="#000" fill-opacity="0.07" stroke="#fff" stroke-opacity="0.7" stroke-width="1.3"/>
<ellipse cx="187.9" cy="656.1" rx="4" ry="3.5" fill="#fafafa"/>
<ellipse cx="174.8" cy="666.4" rx="2.2" ry="2" fill="#fafafa"/>
<ellipse cx="180.6" cy="679.5" rx="2.6" ry="2.3" fill="#fafafa"/>
<ellipse cx="147.8" cy="698.5" rx="2.5" ry="1.6" fill="#fafafa"/>
<ellipse cx="192.3" cy="699.2" rx="2" ry="1.8" fill="#fafafa"/>
<ellipse cx="195.2" cy="704.3" rx="2" ry="1.8" fill="#fafafa"/>
<ellipse cx="170" cy="700" rx="1.5" ry="1.5" fill="#fafafa"/>
<ellipse cx="185" cy="688" rx="1.5" ry="1.3" fill="#fafafa"/>
</g>
<rect x="17.5" y="711.6" width="95.2" height="64.6" fill="#f2f2f2"/>
<g clip-path="url(#tc2)">
<rect x="17.5" y="711.6" width="95.2" height="64.6" filter="url(#tx2)"/>
<rect x="17.5" y="711.6" width="95.2" height="64.6" filter="url(#rd)" mask="url(#rm)"/>
<ellipse cx="26" cy="724" rx="9" ry="11" fill="#fff" fill-opacity="0.45" stroke="#8a8a8a" stroke-opacity="0.35" stroke-width="1.2"/>
<ellipse cx="36.9" cy="747" rx="10" ry="9" fill="#f4f4f4" fill-opacity="0.62" stroke="#e8262a" stroke-opacity="0.7" stroke-width="1.8" stroke-dasharray="2 0.8"/>
<ellipse cx="63.2" cy="759.5" rx="8.5" ry="9.5" fill="#f4f4f4" fill-opacity="0.62" stroke="#e8262a" stroke-opacity="0.7" stroke-width="1.8" stroke-dasharray="2 0.8"/>
<ellipse cx="89.5" cy="769" rx="7" ry="5.5" fill="#f4f4f4" fill-opacity="0.62" stroke="#e8262a" stroke-opacity="0.7" stroke-width="1.8" stroke-dasharray="2 0.8"/>
<ellipse cx="47.5" cy="764" rx="3.5" ry="3.5" fill="#f4f4f4" fill-opacity="0.62" stroke="#e8262a" stroke-opacity="0.7" stroke-width="1.8" stroke-dasharray="2 0.8"/>
<ellipse cx="106" cy="719" rx="6.5" ry="7" fill="#fff" fill-opacity="0.45" stroke="#8a8a8a" stroke-opacity="0.35" stroke-width="1.2"/>
<ellipse cx="85" cy="735" rx="8" ry="7" fill="#000" fill-opacity="0.07" stroke="#fff" stroke-opacity="0.7" stroke-width="1.3"/>
<ellipse cx="19.4" cy="725" rx="2.1" ry="3.15" fill="#a0a0a0" stroke="#f6f6f6" stroke-width="1.6"/>
<ellipse cx="107" cy="717.8" rx="2.1" ry="2.1" fill="#a0a0a0" stroke="#f6f6f6" stroke-width="1.6"/>
<ellipse cx="60" cy="735" rx="1.8" ry="2.5" fill="#fafafa"/>
<ellipse cx="75" cy="745" rx="2" ry="1.6" fill="#fafafa"/>
<ellipse cx="98" cy="745" rx="1.5" ry="2" fill="#fafafa"/>
<ellipse cx="68" cy="722" rx="2" ry="1.5" fill="#fafafa"/>
</g>
<rect x="114.8" y="711.6" width="94.2" height="64.6" fill="#f2f2f2"/>
<g clip-path="url(#tc3)">
<rect x="114.8" y="711.6" width="94.2" height="64.6" filter="url(#tx)"/>
<rect x="114.8" y="711.6" width="94.2" height="64.6" filter="url(#rd2)"/>
<ellipse cx="187" cy="725" rx="12" ry="13" fill="#fff" fill-opacity="0.45" stroke="#8a8a8a" stroke-opacity="0.35" stroke-width="1.2"/>
<ellipse cx="166.7" cy="750" rx="11" ry="9" fill="#000" fill-opacity="0.07" stroke="#fff" stroke-opacity="0.7" stroke-width="1.3"/>
<ellipse cx="119" cy="744" rx="6" ry="12" fill="#000" fill-opacity="0.07" stroke="#fff" stroke-opacity="0.7" stroke-width="1.3"/>
<ellipse cx="140" cy="727" rx="9" ry="8" fill="#000" fill-opacity="0.07" stroke="#fff" stroke-opacity="0.7" stroke-width="1.3"/>
<ellipse cx="150.7" cy="765.2" rx="2.1" ry="2.1" fill="#a0a0a0" stroke="#f6f6f6" stroke-width="1.6"/>
<ellipse cx="187.9" cy="763.7" rx="2.1" ry="2.45" fill="#a0a0a0" stroke="#f6f6f6" stroke-width="1.6"/>
<ellipse cx="128" cy="722" rx="1.8" ry="1.5" fill="#fafafa"/>
<ellipse cx="160" cy="735" rx="2" ry="1.5" fill="#fafafa"/>
<ellipse cx="178" cy="745" rx="1.5" ry="2.5" fill="#fafafa"/>
<ellipse cx="200" cy="748" rx="1.5" ry="1.5" fill="#fafafa"/>
<ellipse cx="145" cy="752" rx="1.5" ry="1.5" fill="#fafafa"/>
</g>
<text x="65.6" y="658.8" font-size="10.5" fill="#111" text-anchor="middle"  stroke="#111" stroke-width="0.15">WT</text>
<text x="162.1" y="658.8" font-size="10.5" fill="#111" text-anchor="middle" textLength="52.5" lengthAdjust="spacingAndGlyphs"  stroke="#111" stroke-width="0.15">WT + Rapa</text>
<text x="62.8" y="728.3" font-size="10.5" fill="#111" text-anchor="middle" stroke="#111" stroke-width="0.15"><tspan font-style="italic">Ncoa7</tspan><tspan font-size="7" dy="-4">&#8722;/&#8722;</tspan></text>
<text x="162.3" y="728.3" font-size="10.5" fill="#111" text-anchor="middle" stroke="#111" stroke-width="0.15"><tspan font-style="italic">Ncoa7</tspan><tspan font-size="7" dy="-4">&#8722;/&#8722;</tspan><tspan dy="4"> +Rapa</tspan></text>
<rect x="197" y="769.6" width="9" height="3" fill="#000"/>
</svg>
</body></html>
